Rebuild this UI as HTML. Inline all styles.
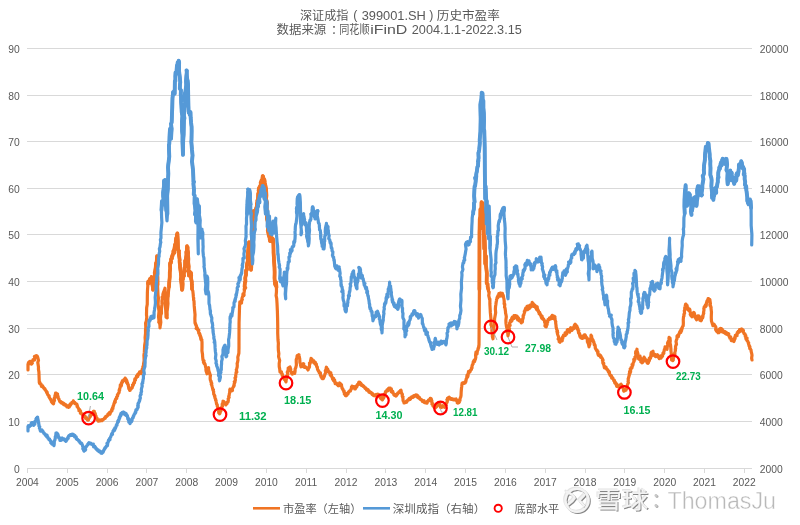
<!DOCTYPE html><html><head><meta charset="utf-8"><title>深证成指历史市盈率</title><style>
html,body{margin:0;padding:0;background:#fff;width:800px;height:525px;overflow:hidden}
svg{display:block}
.ax{font-family:"Liberation Sans", "Noto Sans CJK SC", sans-serif;font-size:10.3px;fill:#595959}
.cj{font-family:"Liberation Sans","Noto Sans CJK SC",sans-serif;fill:#595959}
.lb{font-family:"Liberation Sans",sans-serif;font-weight:bold;font-size:10.5px;fill:#00B050}
</style></head><body>
<svg width="800" height="525" viewBox="0 0 800 525">
<g stroke="#d9d9d9" stroke-width="1" shape-rendering="crispEdges"><line x1="27" y1="48.5" x2="752" y2="48.5"/><line x1="27" y1="95.5" x2="752" y2="95.5"/><line x1="27" y1="141.5" x2="752" y2="141.5"/><line x1="27" y1="188.5" x2="752" y2="188.5"/><line x1="27" y1="234.5" x2="752" y2="234.5"/><line x1="27" y1="281.5" x2="752" y2="281.5"/><line x1="27" y1="328.5" x2="752" y2="328.5"/><line x1="27" y1="374.5" x2="752" y2="374.5"/><line x1="27" y1="421.5" x2="752" y2="421.5"/></g>
<g stroke="#d9d9d9" stroke-width="1" shape-rendering="crispEdges"><line x1="27" y1="468.5" x2="752" y2="468.5"/><line x1="27.5" y1="468" x2="27.5" y2="473"/><line x1="67.5" y1="468" x2="67.5" y2="473"/><line x1="107.5" y1="468" x2="107.5" y2="473"/><line x1="146.5" y1="468" x2="146.5" y2="473"/><line x1="186.5" y1="468" x2="186.5" y2="473"/><line x1="226.5" y1="468" x2="226.5" y2="473"/><line x1="266.5" y1="468" x2="266.5" y2="473"/><line x1="306.5" y1="468" x2="306.5" y2="473"/><line x1="346.5" y1="468" x2="346.5" y2="473"/><line x1="385.5" y1="468" x2="385.5" y2="473"/><line x1="425.5" y1="468" x2="425.5" y2="473"/><line x1="465.5" y1="468" x2="465.5" y2="473"/><line x1="505.5" y1="468" x2="505.5" y2="473"/><line x1="545.5" y1="468" x2="545.5" y2="473"/><line x1="585.5" y1="468" x2="585.5" y2="473"/><line x1="624.5" y1="468" x2="624.5" y2="473"/><line x1="664.5" y1="468" x2="664.5" y2="473"/><line x1="704.5" y1="468" x2="704.5" y2="473"/><line x1="744.5" y1="468" x2="744.5" y2="473"/></g>
<g class="ax"><text x="19.8" y="53" text-anchor="end">90</text><text x="19.8" y="100" text-anchor="end">80</text><text x="19.8" y="146" text-anchor="end">70</text><text x="19.8" y="193" text-anchor="end">60</text><text x="19.8" y="239" text-anchor="end">50</text><text x="19.8" y="286" text-anchor="end">40</text><text x="19.8" y="333" text-anchor="end">30</text><text x="19.8" y="379" text-anchor="end">20</text><text x="19.8" y="426" text-anchor="end">10</text><text x="19.8" y="473" text-anchor="end">0</text><text x="759.8" y="53">20000</text><text x="759.8" y="100">18000</text><text x="759.8" y="146">16000</text><text x="759.8" y="193">14000</text><text x="759.8" y="239">12000</text><text x="759.8" y="286">10000</text><text x="759.8" y="333">8000</text><text x="759.8" y="379">6000</text><text x="759.8" y="426">4000</text><text x="759.8" y="473">2000</text><text x="27.4" y="486.3" text-anchor="middle">2004</text><text x="67.2" y="486.3" text-anchor="middle">2005</text><text x="107.1" y="486.3" text-anchor="middle">2006</text><text x="146.9" y="486.3" text-anchor="middle">2007</text><text x="186.7" y="486.3" text-anchor="middle">2008</text><text x="226.5" y="486.3" text-anchor="middle">2009</text><text x="266.4" y="486.3" text-anchor="middle">2010</text><text x="306.2" y="486.3" text-anchor="middle">2011</text><text x="346.0" y="486.3" text-anchor="middle">2012</text><text x="385.9" y="486.3" text-anchor="middle">2013</text><text x="425.7" y="486.3" text-anchor="middle">2014</text><text x="465.5" y="486.3" text-anchor="middle">2015</text><text x="505.4" y="486.3" text-anchor="middle">2016</text><text x="545.2" y="486.3" text-anchor="middle">2017</text><text x="585.0" y="486.3" text-anchor="middle">2018</text><text x="624.8" y="486.3" text-anchor="middle">2019</text><text x="664.7" y="486.3" text-anchor="middle">2020</text><text x="704.5" y="486.3" text-anchor="middle">2021</text><text x="744.3" y="486.3" text-anchor="middle">2022</text></g>
<g fill="#595959" font-size="12" style="font-family:'Liberation Sans','Noto Sans CJK SC',sans-serif"><text x="299.9" y="19.5" textLength="48.6" lengthAdjust="spacingAndGlyphs">深证成指</text><text x="353.2" y="19.4" font-size="12.3" style="font-family:'Liberation Sans',sans-serif">(</text><text x="361.7" y="19.6" style="font-family:'Liberation Sans',sans-serif" font-size="12" textLength="64.2" lengthAdjust="spacingAndGlyphs">399001.SH</text><text x="429.3" y="19.4" font-size="12.3" style="font-family:'Liberation Sans',sans-serif">)</text><text x="436.8" y="19.5" textLength="63" lengthAdjust="spacingAndGlyphs">历史市盈率</text><text x="276.6" y="33.8" textLength="49.7" lengthAdjust="spacingAndGlyphs">数据来源</text><text x="331" y="33.8" font-size="12">：</text><text x="339.2" y="33.8" textLength="30.3" lengthAdjust="spacingAndGlyphs">同花顺</text><text x="370.2" y="33.6" style="font-family:'Liberation Sans',sans-serif" font-size="12" textLength="37.2" lengthAdjust="spacingAndGlyphs">iFinD</text><text x="411.8" y="33.6" style="font-family:'Liberation Sans',sans-serif" font-size="12" textLength="110" lengthAdjust="spacingAndGlyphs">2004.1.1-2022.3.15</text></g>
<g fill="none" stroke="#F07424" stroke-linejoin="round" stroke-linecap="round"><polyline stroke-width="3.2" points="28,370 28,364 28.59,364.4 28.43,362.7 28.85,363.6 28.55,363.8 28.96,362.6 29.4,361.8 29.46,361.5 30.22,361.3 29.69,362.6 29.88,363.4 30.08,363.5 31.03,362.3 30.59,362.2 31.44,364 31.54,363.6 31.5,363.9 31.95,363.1 32.37,363.1 31.93,363.5 32.01,362.4 32.12,361.1 32.86,360.6 33.15,359.5 33,359.5 33.38,360.2 33.6,359.7 33.57,359.5 33.56,360.2 34.57,359.9 34.73,357.9 34.73,357.5 34.41,356.4 35.53,356 35.53,355.8 35.73,357 35.7,356.5 36.06,356.6 36.36,355.8 36.69,357.1 36.99,356 36.59,355.6 37.38,356.7 37.59,356.7 37.2,357.2 37.42,357.2 37.8,357.6 38.5,360.3 37.79,362.5 38.49,366.9 38.43,369.2 38.9,372 39.3,382.7 39.79,382.5 39.72,382 39.57,383.5 40.6,384.2 40.65,384.4 40.51,383.8 41.01,384 41,384.8 41.39,385.3 41.36,386.3 41.83,386 41.59,385.9 41.65,385.8 42.69,385.9 42.53,387 42.44,386.9 42.68,386.5 43,387 43.34,387.2 43.57,387.9 43.86,388.3 44,388.1 43.99,388 44.39,388.9 44.85,388.7 44.68,389.3 44.84,388.8 45.09,389.3 45.2,390 45.57,390.3 45.76,390.4 46.16,391.2 46.38,391.1 46.44,392 46.92,392.8 46.7,392.6 47.2,392.2 47.08,393 47.3,393 47.33,393.8 47.8,394.6 47.85,394.9 48.41,395.3 48.57,395.7 48.22,395.2 48.92,395.8 49.16,396 48.94,396.9 49.4,397.4 49.4,397.4 49.49,397.7 49.54,397.9 50.08,398.7 50.49,399.5 51,399.5 50.71,399.4 50.91,400 51.38,400.7 51.4,401.6 51.39,401.7 51.67,402 52.49,402.3 52.16,402.8 52.59,403.2 52.3,402.9 52.93,403.1 53.53,403.8 53.21,403.6 53.5,403.5 53.75,402.4 53.58,401.5 54.52,400.6 54.27,399.2 54.34,397.8 54.64,397.7 55.38,397.1 54.95,395.7 55.39,394.6 55.6,393 55.81,393.7 56,393.6 56.35,393.2 56.23,393.6 56.98,394.4 56.89,393.8 57.51,394 57.04,394.9 57.3,394.9 57.7,395.3 57.9,396.2 58.22,397 57.95,397.8 58.34,398.5 58.59,398.8 58.99,399 59.03,399.6 59.47,400.6 59.46,400.7 59.8,401.6 60.03,401.9 60.49,401.4 60.51,401.6 60.77,402.2 61.26,402.2 60.95,402.1 60.97,402.8 61.8,402.4 61.87,402.3 61.9,402.7 62.21,402.7 62.07,403.2 62.57,403.3 62.56,403.3 63.02,402.9 62.71,403.7 63.67,403.4 63.72,404 63.98,403.4 64.47,404.4 63.72,404.6 64.11,405 64.9,404.8 64.66,404.8 65,404.7 65.25,404.7 65.21,404.8 65.24,405.2 65.73,404.8 65.62,404.7 66.51,405.3 66.12,406.1 66.51,406.1 66.9,406.3 66.99,406.9 67.53,406.2 67.67,406 68.16,406.5 68.07,406.9 68.21,406.9 68.47,407.1 68.6,407.4 68.74,406.9 68.73,406.9 69.36,406.9 69.57,405.9 69.22,405.3 69.54,405.5 69.98,405.8 70.5,405.1 70.63,404.2 70.31,403.8 70.88,404.3 71,404 71.29,404 71.1,404.1 71.48,403.7 71.67,402.8 71.89,402.7 71.89,402.3 72.61,402.5 72.61,402.4 72.9,402.3 73.13,401.5 73.3,401 73.31,401.1 73.36,401 73.9,402 73.63,402.4 74.73,402.4 74.47,402.6 74.35,402.7 74.62,402.4 75.05,402.7 75.03,403.6 75.41,403.4 75.7,403.5 76,404 76.43,403.9 76.82,404.1 76.77,405 77.25,405.4 77.17,405.3 77.37,405.6 77.06,406.5 77.14,406.5 77.57,406.9 78,407.6 78.15,407.8 78.29,408.2 78.79,408.8 78.56,408.7 79.47,409.4 79.16,409.9 78.94,410.8 79.92,410.2 79.39,410.6 80.54,411.1 80.11,411.5 80.03,411.3 80.66,412.4 80.43,413.2 80.63,412.9 80.93,413.1 81.44,413.4 81.56,413.8 81.9,414.3 82.11,414 82.35,414.1 82.34,414 82.78,414.1 83.05,415.2 82.87,415.8 83.41,415.1 83.65,415.5 83.86,415.7 84,416 84.19,416.2 84.2,416.7 84.43,416.4 85.1,416.2 84.85,417.2 84.83,416.9 85.04,417.1 85.74,417.5 85.43,417.6 85.62,418.3 86.12,418.2 86.32,418.6 86.7,419 86.96,419.2 87.3,419.9 87.45,420 87.92,419.7 88.28,419.9 88.25,420.2 88.48,419.8 88.5,420 88.52,419.1 89.07,418.4 88.66,417.9 89.36,418 89.05,416.9 89.56,416.2 90.35,416.6 89.84,416.2 90.23,415.5 90.5,415 90.88,414.8 90.51,414.9 90.77,414.6 91.25,414.6 91.79,414.8 91.52,413.7 91.86,414.1 92.04,413.5 92.54,413.4 92.5,413 92.46,413 92.87,413.1 93.65,412.1 93.48,411.4 94.01,411.6 93.57,411.5 93.88,411.3 94.3,411.4 94.34,412.1 94.47,412.5 95.28,413.7 95.27,414.5 95.01,414.5 95.57,415.4 95.57,415.2 96,416 96.04,416.6 96.23,417.5 96.96,418 97.1,418.4 96.51,418.5 97.29,419 97.29,419.1 97.15,419.6 97.74,420.3 98,421 98.38,420.8 98.69,421.1 98.76,421.2 99.1,421 99.09,420.6 99.22,420.8 98.98,420.4 99.46,419.8 100.06,420.2 99.81,420.5 99.97,420.9 99.99,420.8 100.72,420.6 100.95,420.4 101,420 101.26,420.2 101.44,419.8 101.39,420.3 101.91,420.6 101.58,419.9 101.97,419.5 102.91,419.7 102.84,420 102.55,419.5 103.21,419.6 103.27,419.5 103.46,419.4 103.8,419 104.14,418.9 104.29,418.4 104.15,418.6 104.67,417.8 105.18,418.3 104.92,418.3 105.23,417.8 105.2,418.1 105.71,417.3 105.49,417.7 105.62,416.6 106.3,416.7 106.12,416.2 106.7,416.3 106.88,416.3 107,416 107.32,415.8 107.57,415.5 107.9,415.5 107.98,414.9 107.98,415.3 107.89,414.4 107.99,413.9 108.72,413.6 109.06,413.2 109.32,413.8 109.41,414 109.86,414.2 110.07,413.8 109.4,412.8 109.71,412.2 110.16,412.1 110.64,412.4 110.51,411.7 110.71,411.9 111.05,411.5 111.25,411.5 111.4,411.4 111.42,411 112.02,410.6 111.67,409.6 112.12,408.9 112.9,408.6 112.49,407.7 113.11,407.1 113.21,406.8 113.19,405.8 113.58,405.6 113.75,404.4 114,404 114.11,403.2 114.38,402.4 114.64,402.8 115.23,402.1 114.86,401.1 114.71,401.3 115.26,401.2 115.35,399.8 115.68,399.5 115.55,399.2 116.67,398.4 116.37,398.1 116.45,397.4 116.87,397.6 117,397 117.3,396.4 117.46,395.7 117.74,395.7 117.34,395.1 118.27,393.5 118.57,393 118.82,393.1 119.1,392.2 119.19,392 119.28,390.6 119.67,390.1 119.13,390.4 119.44,389.3 119.72,388.6 120,388 120.18,387.2 120.29,385.9 120.99,386.4 120.32,385.2 121.46,385.4 120.84,384.8 121.82,383.5 121.15,383.8 121.76,382.5 122,382 122.35,381.5 122.42,380.8 122.8,381.8 122.41,380.7 122.87,381 123.18,380.6 123.87,380.6 123.67,380 123.82,379.8 124,380 124.35,379.9 124.7,378.9 124.64,379 125.14,379.4 125.06,378.5 125.16,378 125.17,378.5 125.7,379 126.12,379.4 126.15,379.6 126.76,380.6 127.02,381.8 126.41,381.4 126.53,382.6 127.4,382.5 127.26,382.8 127.4,383.9 127.95,383.8 128,384 128.26,384.7 128.38,385.1 128.23,385.5 128.5,386.6 128.83,388.7 129.49,389 129.5,390 129.81,390.4 130.06,389.9 129.91,389.2 130.3,389.9 130.25,390.2 130.46,389 131,389 130.98,388.3 131.41,388.5 131.17,388.6 131.45,388.1 132.16,387.8 131.98,387.3 132.07,387.5 132.86,385.9 132.5,385 133.16,385.1 133.3,385 133.57,384.2 133.42,384.2 133.68,384 133.63,382.8 134.35,382.7 134.51,382.7 134.47,381.1 135.41,380.2 134.76,379.4 134.96,378.9 135.68,378.7 135.65,378.6 136,378 136.18,377.7 136.69,377.4 136.38,376.4 136.84,376.4 137.06,376.9 137.12,376.6 137.74,376.5 137.21,375.4 137.66,374.5 137.76,375.2 138.34,374.9 138.03,375.1 138.49,374.4 138.85,373.2 139,373 139.38,372.7 139.49,372.5 139.37,373 139.63,372.6 139.56,371.8 140.11,372.6 139.96,373.3 140.28,372.4 141.09,373.3 141.01,373.6 141.12,372.1 140.95,371.6 141.45,372 141.8,371.7 142,372 141.92,371 142.04,370.3 142.23,369 142.9,368.6 142.84,366.8 143.63,365.4 143.5,364 144.1,360.8 144.03,357.4 143.93,355.3 144.33,352.4 144.5,348 144.67,345.3 145.32,341.2 145.1,337.6 145.53,333.2 145.5,330 145.8,327.3 145.6,323.1 146.33,321.1 146.78,316.9 146.5,315 146.65,307.8 147.26,304.2 147.3,298.4 147.38,292.9 147.5,290 147.97,283.8 148,283 148.25,281.5 148.39,281.7 149.02,283 148.63,281.2 148.63,282.3 149.11,281 149.03,282.2 149.85,281.4 149.53,280.3 150,279 150.35,280.7 150.79,279.5 150.53,279.4 150.92,279.4 151.26,279.2 151.12,278.7 151.6,277 152,280 151.54,282.8 152.18,283.7 152.1,283.4 152.95,287.5 153.04,287.7 153,289.8 152.94,289.2 152.91,286.6 153.68,286.1 153.8,285.4 154,283 154.08,282.8 154.66,281.5 154.79,279.6 154.57,276.7 155,277 154.73,272.7 155.01,271.7 155.54,268.6 155.78,267 156,263 156.46,263.2 156.73,261.6 156.82,260.1 156.91,259.6 157,256.2 156.91,265.5 157.24,270.7 157.47,277.4 157.53,284.8 158,295 158.42,298.1 158.07,304 158.99,311.4 158.53,316.7 159,321 158.75,322.2 159.67,323.5 159.96,325.5 160.05,327.2 160,327.8 160.15,326.2 160.55,324.1 160.81,322.2 160.49,318.6 160.75,315.2 161.47,313.4 161.43,309.7 161.47,308.7 161.86,304.9 162,303 161.93,301.1 162.33,298.8 162.11,297.1 163.26,297.2 162.83,297.7 162.78,297.7 162.91,294.3 163.7,291.7 163.79,292.2 164,291 164.3,292.5 164.07,291.1 164.54,289.6 164.54,290.1 165,288.2 165.24,292 165.57,297.2 165.19,303.7 165.71,310.1 166,315 166.02,316.3 166.02,317 166.18,317.2 167.2,317.9 167,317.8 167.18,315 167.07,311.7 167.55,307.8 167.97,303.7 167.79,300.6 168,297 168.19,296.6 168.45,291.9 168.58,290.6 169,287 169.16,283.2 169.76,276.9 169.79,272.5 170.16,268.6 170,265 170.07,263.1 170.4,263.7 170.61,262.1 170.87,263 171.16,261.4 171.11,260.9 171.03,259.4 171.96,258.4 171.73,257.3 172,257 172.17,255.8 171.96,256.5 172.86,254.2 172.37,256.4 173.13,253.6 173.36,253 173.36,251.3 173.44,251 173.81,253.1 174,253 174.53,252.5 174.37,248.9 174.72,246.9 175.17,244.3 175,245 175.4,244.6 175.7,243.2 175.23,244.5 176.03,243.6 175.78,241.2 176.11,238.2 176.3,239.9 176.72,237 176.91,235.9 176.82,235.1 177.35,233.4 177.4,233.6 177.78,240.1 178,247 178.1,249.5 178.51,250.5 179.03,250.8 178.8,251.4 179.03,253.6 178.92,254.6 179.69,260.1 179.56,260.5 179.6,261.9 180,265 180.06,266.4 180.03,267.3 180.84,273.1 181.14,276.9 180.76,279.5 180.97,279.6 181.08,280.6 181.59,284.8 181.69,286.3 182,289.8 182.42,288.6 182.46,287.6 182.67,283.9 182.36,280.6 183,279 182.97,276.7 183.27,274.6 183.59,276.2 184.04,276 183.82,274.3 184.02,272 184.76,271.2 184.4,270.9 184.53,267.8 185,267 185.09,263.8 185.12,260.7 185.68,260.4 186.03,257.5 186.42,254.7 186.29,251.9 186.63,252 186.96,250.1 186.9,248.5 187,246.2 187.24,247 187.64,247.4 187.58,249.6 188.13,252.5 188,255 188.35,258.8 188.18,262.1 188.7,266.4 188.45,271.3 189,275 188.99,274.1 188.94,275.7 189.39,274.9 189.57,272.6 189.9,271.8 189.78,274.4 190.59,273.3 190.14,273.7 190.68,272.7 191,273 191.18,275.4 191.05,278.3 191.82,281.9 191.84,284.4 192,287 191.95,288.9 192.56,290.3 192.78,290.8 192.92,291.9 193.17,294.1 193.41,297 193.6,298.3 193.71,298 193.56,299.8 194,301 194.22,305.9 194.67,310.8 195.04,314.6 194.86,318.6 195,323 195.37,324 195.59,323.5 195.64,324.6 196.16,325.8 195.99,324.8 196.4,325.9 196.7,327.6 196.16,328.4 197.21,327.8 197.26,329.3 197.47,328.4 197.56,328.8 197.85,329.4 197.98,329.9 198,330 198.23,331 198.84,330.3 198.6,330.8 198.49,330.6 198.78,333.3 199.51,333.2 199.57,333.3 199.98,334.5 199.71,335.3 200,336 199.99,335.7 200.22,335.4 201.04,337.6 200.55,337.9 201.13,338.2 200.82,339.1 201.17,340 201.87,339.8 201.77,340.6 202,342 202.02,346.5 201.94,350.7 202.52,354.5 202.57,356.1 203,360 203.37,360.9 203.21,360.2 204.01,360.8 203.45,362.3 204.05,363.4 203.78,362.7 204.42,362.8 204.42,363.1 204.79,364.1 205,364 205.16,364.7 205.15,364.9 205.72,367.4 205.97,368.2 206.02,369.4 205.85,369.9 206.02,369.9 206.13,371.2 206.71,372.8 207,373.8 206.92,372.4 207.38,372 207.19,369.7 207.88,369.6 208,368 208.57,367.6 208.56,369.6 208.53,369.1 208.89,370.7 209,371 209.21,371.6 209.36,372.2 209.98,374.2 210.08,375.1 210.45,375.3 210.18,377.4 210.2,378.9 210.42,380.3 211.14,381.4 211.23,382.5 210.98,382 211.79,383.3 211.28,384.3 211.74,385 212,386 212.15,386.7 212.34,387.2 212.69,388.9 213.23,389.9 213.38,389.6 212.9,389.9 213.65,391.6 213.58,392.6 213.73,393.6 213.72,393.7 213.74,394.1 214.83,395.9 214.54,396.4 214.91,397.1 215,398 215.36,398.8 215.37,399 215.73,399.4 215.6,400.2 216.11,400.8 216.19,401.7 216.37,402.8 216.54,404 217.23,404.7 217.09,405.2 217.41,406 217.32,405.9 217.27,406.3 217.74,407.3 218,408 218.35,408.3 218.39,409.1 219.09,410.4 218.63,411.5 218.83,412.9 219.48,413.3 219.6,413.8 219.95,413.3 220.33,412.3 220.32,411.7 220.22,411.7 220.43,410.8 220.92,410.9 221,410 221.07,409.3 221.02,407.9 221.7,407.3 221.92,407.1 222.49,406.3 222.12,405.1 222.27,404 222.67,403.4 223.05,401.9 223,401.2 223.26,401.5 223.11,401.9 223.88,401.6 223.5,402 224.33,402.9 224.19,403.5 224.78,403 224.9,403.1 224.72,403.9 225.24,403.7 225.42,404.5 225.6,404.8 225.77,404.9 225.84,404.7 226.25,404 226.81,403.9 226.6,403.8 226.93,403.7 226.77,403.2 227.09,403.2 227.07,402.2 227.76,402.1 227.8,402.2 228,402 228.34,400.7 228.33,399.7 228.13,398.9 229.16,397.3 228.69,396.4 229.23,395.2 229.23,394.2 229.74,392.6 229.71,391.1 230,389.2 229.97,389.6 230.06,390.3 231.05,389.6 231.05,389.8 230.74,389.7 231.68,389.8 231.8,389.6 231.77,390.8 231.92,390.5 232,390.8 232.26,390.2 232.49,390.5 232.3,389.1 232.35,389 232.87,387.6 233.19,387.1 233.46,386.3 233.42,386.7 233.81,386.5 234,386 234.23,385.1 234.01,384.4 234.97,382.1 234.31,381.7 235.11,381 235.4,379.9 235.01,377.9 235.8,377.1 235.68,375.4 236,374 236.04,372.5 236.86,372.1 236.3,369.6 236.69,368.8 237.18,367.1 237.29,365.2 237.12,363.4 237.53,362.5 237.61,361.8 238,360 237.82,357.1 238.88,353.3 238.94,349.9 238.99,348.1 239,344 239.05,323.3 239.6,305 239.81,304.5 239.8,303.4 239.81,301.9 239.97,302 240.36,302.1 240.57,302.7 241.45,303.1 240.93,303.3 241.37,303.1 241.57,302.2 241.69,300.2 242,299 242.31,299.6 241.95,298.6 242.52,296.8 242.88,295.9 242.97,293.9 243.65,295.8 243.59,295.7 244.08,295 243.78,294.4 244,293 244.25,291.5 244.56,289 245.04,287.3 245.3,287.6 244.54,286.6 245.04,281.9 245.46,281.5 245.22,278.2 245.6,276.2 246,275 246.02,271.8 246.05,270.4 246.75,270 247.03,269.1 246.77,267 247.08,263.7 247.81,260.9 247.89,258.7 247.57,257.2 248,255 247.94,253.2 248.28,249.1 248.52,246.7 248.9,246.4 249,242.2 248.87,244.7 248.96,246.8 249.97,250.3 249.89,254.4 250,255 249.89,258.4 250.4,261.3 250.54,262.8 250.94,267.7 251,269.8 251.25,267.2 251.37,263.2 251.73,260.2 251.68,259.2 252,255 251.99,240.7 252.5,224 252.85,220.6 252.92,218 252.88,217.1 253.81,214.3 253.21,211.2 253.69,212.6 254,211.2 253.92,213.1 254.3,213.7 254.7,215.8 254.96,216.2 255,212.8 255.01,212.7 255.87,209.9 255.75,212.2 256,208.5 256.28,211.2 256.14,210.8 256.83,209.8 256.19,208.2 257.04,205.9 257,206 256.99,203.3 257.33,202.5 257.33,200.5 258.08,200.2 257.93,199 258.1,196.1 258.23,193.7 259.04,191.6 258.6,190.7 259,188 259.41,187.4 258.99,189.3 259.48,188.2 259.85,186.4 260.13,187.5 259.95,188 260.29,187.3 260.89,183.1 260.65,182.8 261,182 261.52,182.9 261.44,180.9 261.39,180.5 262.27,179.9 261.77,180.2 262.32,180 262.51,177.7 262.6,177 263.1,176.6 262.74,176.1 262.93,176.4 264.03,180 263.55,179.2 264,179.5 264.09,180.2 264.05,181 264.5,180.2 264.44,179.7 264.8,182.8 265.66,186.6 265.17,187.4 265.45,188.7 265.76,189 266,188 266.44,195.6 266.05,198.8 267.06,203.1 266.59,206.1 267,214 266.89,217.9 266.92,218.7 267.83,222 267.94,225.8 268,230 267.76,230.5 268.63,234.3 268.3,232.6 268.81,235.6 269,236 269.51,236.1 269.04,236.1 269.92,239.2 269.69,239.2 270,241 270.47,240.7 270.83,238.8 271.1,241.1 270.5,239.1 270.67,238.8 271.27,240.9 271.39,241.4 272.04,239.8 271.65,237.7 272,238 272.68,240 272.51,240.7 272.63,240.9 272.63,238.6 273,239 273.34,242.2 273.53,249.5 273.56,253 273.91,257.5 274,261 274.47,267.3 274.62,271.9 274.59,274.4 274.52,278.2 275,283.8 275.52,285.2 274.92,283.7 275.75,281.9 275.66,282.8 276,282.2 276.47,287.2 276.46,292 276.1,295.7 276.71,298.5 277,303 277.38,311.1 277.59,318.3 277.73,326.6 277.7,333 278,340 278.37,343.1 278.25,346.7 278.37,350.2 278.86,353.7 278.56,356.6 279.66,360.4 279.19,363.6 279.23,366.6 279.72,369.1 280,372 280.18,372 280.17,371.9 280.24,372.1 281.27,371.7 281.39,371.8 280.82,372.7 281.41,373.3 281.64,373 281.6,372.9 282.34,374.3 282.11,374.1 282.22,375.6 282.42,375.1 282.74,375.9 283,376 283.09,376.6 283.28,376.9 283.71,377.2 283.99,378.5 284.31,378.4 283.89,378.6 284.17,379.1 284.49,378.8 284.33,379.3 285.46,379.5 285.07,380.1 285.59,380.5 285.53,381 285.72,381.5 286,381.8 286.12,380.9 286.11,380 286.59,378.5 286.43,376.3 287.27,375.4 287.54,375.1 287.87,374.3 287.26,372.2 287.96,370.7 288,370 288.42,369 288.15,368.2 288.8,368.7 288.88,367.6 289.05,368 289.5,368 289.76,368.5 289.16,367.5 289.54,367.2 290,367 290.38,368 290.59,369.2 290.83,369.2 290.52,370.1 290.97,371.4 290.9,371.7 291.37,372.8 291.93,373.5 291.85,373.6 292,374 292.36,374.1 292.08,373.3 292.2,373.3 292.64,373.2 293.28,372.7 293.62,373 293.28,372.4 293.87,372.8 293.49,372.6 294.07,372.3 294.35,373.3 294.72,373.4 294.6,372.5 294.88,372.5 295,372 295.09,370.8 295.16,368.8 295.75,367.8 295.89,367.1 296.38,365 296.29,362.5 296.23,362.3 296.23,359.6 296.93,357.8 297,357 296.94,357 297.17,356.3 297.13,355.7 297.64,355.3 298.03,355.4 297.81,356.6 298.8,355.2 298.64,354.7 299.01,354.8 299,355 299.13,355.8 299.46,357.5 299.5,358.1 299.7,358.5 299.89,361 299.87,362.1 300.32,363.7 300.86,364.4 300.57,365.4 301,366.8 301.12,366.1 301.41,366.6 301.23,366 301.89,365.3 302.16,366.2 302.11,366.6 302.24,364.7 302.17,364.3 303.02,363.9 303,364.2 303.46,364.1 303.21,363.7 303.31,363.9 303.76,363.8 303.57,365.4 303.83,365.8 304.8,366.7 304.63,367.5 304.92,366.6 305,367 305.35,366.9 305.57,366.8 305.35,367.2 305.73,367.5 306.05,367.2 306.4,367.8 306.51,367.9 306.62,367.7 307.09,367.8 306.79,367.9 307,367.8 307.14,368.8 307.87,368.8 307.69,369.5 308,370 308.35,369.3 308.29,368.7 308.18,367.9 309.14,367.5 309.33,367.4 309.5,366.5 309.46,364.9 310.04,363.4 309.48,363.1 310.12,363.6 310.55,361.7 310.52,361.4 310.47,361.1 310.83,359.7 311,359 311.04,359 311.08,358.4 312.01,359.2 312.15,360.3 312.3,360.4 312.07,360 312.16,361.2 312.66,361.3 312.84,360.4 313,361 313.35,361.2 313.68,360.7 313.9,361.5 313.89,361.6 313.72,362.6 314.45,361.8 314.13,363 314.61,363 315.14,362.6 315.28,362.4 314.85,362.7 315.06,364.1 315.27,363.3 315.62,363.6 316,364 316.28,364.1 316.06,364.3 316.24,364.1 316.76,366.3 316.55,366.2 317.02,367.3 317.34,367.1 317.44,368.4 317.49,369 317.54,369.5 318.63,370.8 318.37,371 318.77,371 318.88,371.5 319,372 319.08,372.6 319.22,372.7 319.95,372.6 320.04,372.9 320.42,372.8 320.44,373.7 320.5,373.7 320.39,375.3 320.68,374.8 321.26,376.1 321.02,375.6 321.2,377.2 321.86,376.8 321.78,377.7 322,378 322.03,378.4 322.81,378.6 322.62,378.7 323.28,377.9 323.3,378.6 323.59,378 323.4,378.3 323.71,377 323.71,376.7 324,377 324.38,376.2 324.27,376.1 324.48,375.7 325.13,373.8 325.1,373.7 325.64,372.8 325.64,371 325.27,370.9 326.3,368.7 326.14,368.1 326.4,367.2 326.54,367.4 326.91,368.2 326.51,368.5 326.78,369.8 327.69,369.1 327.79,370.4 328.05,370 328.08,370.6 328.25,371.3 328.16,371.4 328.29,371.9 328.86,371.5 329,372 329.19,371.9 329.39,371.9 329.31,372.7 330.27,373.3 329.72,372.9 329.81,373 330.86,372.9 330.14,374.9 330.88,375.7 331.38,375.1 331.34,374.8 331.59,375.9 331.36,376 331.72,376.7 332,377 332.28,377 332.33,378 332.44,378.4 332.52,379.2 333,378.4 333.27,378.8 333.83,378.7 333.49,379.4 333.34,380.3 334.33,381.3 334.15,380.7 334.68,380.2 334.67,381.6 334.79,382.1 335,382 335.18,382.7 335.08,382.9 335.2,383.7 335.9,383.5 335.85,382.7 335.71,382.7 336.28,382.9 336.8,383.7 337.17,384.6 337.11,383.9 337.49,384.4 337.24,383.8 337.47,384.4 337.77,384.9 338,384.8 338.46,385.2 338.25,385.8 339.08,385.6 338.37,384.1 339.49,384.3 339.54,383.1 339.38,383.6 339.61,382.9 339.64,383.2 340,383.2 340.25,383.5 340.7,384.1 340.97,385.4 340.72,384.7 341.25,384.7 341.53,384.8 341.54,386 341.97,387.4 341.93,388 342.02,388.1 341.9,387.6 342.32,388.7 342.84,389 342.89,389.5 343,390 343.24,390.3 343.46,390.7 343.3,390.4 344.08,390.8 343.88,392 344.14,392.5 344.17,392.9 345.06,392.9 344.42,394 345.36,393.5 345.34,394 345.5,394.7 345.36,395.5 345.71,395.7 346,395.8 346.31,395.5 346.73,395.3 346.48,394.6 346.89,394.7 347.01,394.8 347.48,393.8 346.97,394.2 347.11,394.4 347.92,394.1 347.59,393.2 348.33,392.6 348.7,392.6 348.68,392.1 348.63,392 349,392 349.03,391.3 349.3,391.4 349.53,391.4 349.55,390.8 349.71,390.9 350.48,390.9 350,390.5 350.75,390.3 350.87,389.4 351.45,388.5 351.65,388.7 351.43,387.2 351.38,387.2 351.89,386.9 352,386.2 352.34,386.4 352.24,387.2 352.68,387.7 352.54,387.2 352.53,386.5 352.82,386.9 353.22,386.7 353.3,386.6 354.28,386.9 354.12,387.4 354.66,387.9 354.81,388.7 354.77,389 354.74,389 355,388.8 355.13,388.8 355.26,388.9 355.79,388.1 355.53,387.8 356.38,386.7 356.21,386.1 356.39,386.7 356.26,386.2 356.9,386.6 356.89,386.2 357.08,385.9 357.26,384.6 357.96,384.9 357.96,384.4 358.15,384.7 357.96,384.7 358.59,384.2 358.65,383.3 358.66,382.5 359,382.2 359.24,382.1 359.66,382.3 359.48,383 359.51,383.3 359.66,384.1 360.24,384.5 360.88,383.5 360.78,383.2 360.43,383.2 361.39,384.2 361.37,385 361.07,385 361.48,385.4 361.62,385.1 362,385 362.18,385.2 362.14,385.3 362.49,385.7 362.67,385.2 363.24,386 362.82,386.1 363.5,386.5 364.07,386.6 363.82,386.6 363.63,386.1 363.89,386.2 364.01,386.4 364.69,387.8 364.86,387.9 365.37,387.7 365.13,388.4 365.02,387.9 365.72,388 365.79,388.4 366,389 366.33,389 366.54,389.5 366.95,389.7 366.54,390 366.65,389.4 367.09,389.1 367.11,389.8 367.44,389.4 368.18,389.9 368.32,390.9 368.52,390.5 368.49,390.4 368.33,390.8 368.56,391.1 368.74,391.7 368.9,392.1 369.35,391.2 369.67,391.9 369.8,391.8 370,392 370.11,392 370.15,392.7 370.46,392.3 370.85,392.4 370.66,392.7 371.41,393.5 371.07,393 371.61,392.8 372.02,393.5 372.37,393.4 372.17,394.5 372.07,393.9 372.17,394.6 373.02,394.9 372.65,394.2 373.14,394.4 373.63,395.4 373.34,395.4 373.71,395.6 374,395.8 374.17,395.6 374.63,395.7 374.67,395.1 374.44,395.4 374.83,394.8 375.4,394.8 375.56,395.7 376.1,395.3 375.74,395.8 376.02,395.3 376.34,394.5 376.38,394.9 377.01,394.9 376.99,395 377.23,395.3 377.64,394.8 377.08,395.1 377.42,395 377.84,394.6 378,394.2 378.12,394.5 378.22,394.5 378.86,394.5 379.17,395 378.99,396.1 379.65,395.6 379.48,395.4 379.3,396.5 380.04,396.3 380.46,396.1 380.36,397.1 380.15,397.8 380.76,398.4 381.25,398.1 380.69,398.2 380.89,398.8 381.3,399 381.71,399 382.05,399.4 382.12,399.5 382.4,399.8 382.67,399.4 382.52,399 383.12,398 383.33,398 383.6,398.2 384.06,397.2 383.41,396.1 383.53,395.6 384.23,395.4 384.51,394.4 384.8,394.1 385.1,394.2 384.6,393.9 385.37,393.3 385.29,392.2 385.46,391.9 385.73,391.3 386,391 386.3,391 386.66,391.2 386.69,390.9 387.01,389.9 386.85,390.6 386.8,390.5 387.33,390.9 387.32,390.2 388.25,390.5 388.02,389.9 388.4,389.2 388.75,389.4 388.6,388.4 388.32,389.4 388.88,389.3 389.01,388.3 389.18,389 389.8,388.6 389.66,388.2 390,388.2 390.33,388.2 390.47,388.9 391.01,388.8 391.3,388.8 391.41,389.6 391.31,390.1 391.34,391.1 392.07,390.8 391.43,391.9 392.26,392.4 391.93,391.7 392.72,391.4 392.83,391.7 392.98,392.7 393,393 393.05,392.8 393.15,393.4 394.07,394 393.72,394 394.14,394.7 394.39,395.3 393.95,394.9 394.85,395.4 394.99,394.7 394.94,394.6 394.78,394.5 395.61,395 395.84,395.7 395.89,396.1 396,396 396.11,395.8 396.58,395.3 396.84,394.8 396.74,395.3 396.59,395 397.55,394.1 397.16,394.3 397.18,393.6 397.57,394.1 398.32,393.1 397.87,392.9 398.27,393 398.56,392.9 398.57,392.8 399.46,392.5 399.12,391.8 399.35,391.8 399.73,391.4 399.45,392.1 400.46,391.5 400.36,390.6 400.4,390.5 400.49,390.7 400.83,390.3 401,390.2 401.21,391.4 401.51,392.4 401.74,393.5 402.01,394.3 402.38,394.4 402.2,395.5 402.24,396.4 403.01,396.8 402.66,397.3 403,398.6 402.97,398.9 403.05,400.5 403.33,401.3 403.98,401.9 404,403 404.1,402.6 404.63,402.5 404.52,402.9 404.53,402.6 404.64,402.8 404.89,402.1 405.77,402.3 405.43,401.9 405.4,402.3 405.82,402.2 405.96,402.3 406.75,402.2 406.3,401.3 406.38,401.2 406.81,401 406.82,400.9 407.22,400.8 407.72,400.5 407.75,400.1 408,400 408.07,400 408.32,399.8 408.6,400 408.47,399.5 408.84,399.2 409.33,398.4 409.31,399.2 409.98,398.8 410.26,399.3 409.68,399.2 410.04,398.5 410.69,398.7 410.25,398.8 411.29,397.9 411.09,397.5 411.41,397.4 411.64,396.8 411.71,397.4 411.86,397.1 412,397 412.23,397 412.5,397.1 412.91,397.2 413.19,397.3 412.58,397.2 413.61,396.3 413.77,395.6 413.24,396.2 414.02,396.7 413.84,395.9 414.32,396.1 414.75,396 414.96,395.5 415.15,396.2 414.74,395.7 415.1,395.5 415.09,395.5 415.38,395.1 415.75,394.9 416,395 416.31,395.1 416.65,395.3 416.47,395.3 417.08,395.2 417.45,395.8 417.46,396.1 417.83,395.8 417.29,395.7 417.37,397.1 418.49,397.8 418.12,397 418.87,397.7 419.01,397.8 419.05,397.8 419.16,397.4 419.41,397.5 419.04,397.9 419.45,398.4 419.66,398.7 420,399 420.26,398.9 420.38,399.4 420.39,399.3 421.04,399.6 420.63,399.2 420.97,399.7 421.45,400.1 421.45,399.5 421.98,400.1 422,400 422.35,400.6 422.4,401.2 422.39,401.5 423.28,401.7 423.46,401.8 423.38,401.7 423.63,400.9 423.98,400.6 424,401.4 424,401.5 424.19,401.8 424.49,402.5 424.82,402.2 424.94,402.6 425.17,402.3 424.81,402.5 425.05,402.3 425.23,402.6 425.85,403 426,403 425.95,402.9 426.38,403 427.02,403.2 427.1,402.7 427.24,401.8 427.45,402 427.13,401.6 427.28,401.3 427.9,401.3 428,401 428.26,400.8 428.52,401 428.39,400.3 428.61,400 428.88,400.3 429.65,399.7 429.81,399.9 429.23,399.7 430.02,399.3 430,399.5 430.11,398.9 430.24,398.3 430.26,398.6 430.56,398.4 431,398.5 431.45,399.4 430.91,400.8 431.92,400.9 431.72,401.9 432,403 432.36,403.4 431.98,404.1 432.96,403.9 432.7,404.5 433.03,405.3 432.97,405.9 433.28,406 433.75,405.4 433.71,406.1 434,406.5 434.65,406.8 434.84,407.4 434.13,407.3 435.13,407.2 435,408 435.35,407.8 435.12,407.5 435.29,407.6 435.78,406.4 436.5,406.9 435.74,406.4 436.34,406 436.48,405.8 436.99,405.3 437,405 436.95,405 436.93,404.9 437.49,404.9 437.81,405.3 438.26,404.4 438.26,404.2 438.3,404.5 438.17,404.3 438.57,404 439,404 439.12,404.1 439.83,403.8 439.41,405 440.03,405.9 439.81,405.8 440.53,406.2 440.35,406.7 440.33,407.2 441.06,407.1 441,407 441.29,407 440.94,406.4 442.09,407.1 441.36,407.3 441.94,407.2 442,406.6 442.3,406.7 442.15,406 442.76,405.7 443,406 443.41,406.4 443.44,407 443.79,406.7 443.47,406.8 443.96,406.8 444.19,406.7 444.51,406.8 444.27,406.6 444.94,407.2 445,407 445.04,406.8 445.1,405.9 445.35,404.8 446.25,405.2 446,404.5 446.25,403.5 446.16,403.7 447.03,402.3 447.22,402 447,401.5 447.55,400.6 446.93,399.7 447.44,399.4 447.47,398.2 448,398 447.98,398 448.71,397.6 448.69,397.4 449.12,397.2 448.59,397.7 449.37,397.6 449.03,397.4 449.14,397.6 449.59,397.5 450,398 450.14,398.2 450.71,398.6 450.32,399.2 451.2,399.1 450.54,399.2 451.47,399.4 450.94,399.3 451.13,398.5 451.85,398.9 452,399 452,398.9 452.17,399.1 452.31,398.8 452.4,399.6 452.64,399.2 453.38,399.7 453.05,399.6 454.01,399.1 453.56,399.8 454,400 454.44,399.7 454.34,399.3 455.06,399.4 455.04,399.6 454.78,399.9 455.16,399.7 455.1,399.4 456.07,399 455.62,399.7 456,399.5 456.18,400.3 456.33,400.5 456.62,400.1 457.22,400.3 456.78,401.1 457.28,402 457.64,402.3 457.33,402.8 457.93,403.1 458,403 458.46,402.7 458.8,402.7 458.41,402 459.3,402.3 458.65,402 459.24,401.2 459.24,400.2 460.01,400.3 460.01,400.4 460,400 459.96,398.6 460.14,398.3 460.8,396.9 460.93,395.8 461,396 461.17,392 461.5,388 461.72,386.5 462,384 462.05,383.6 462.67,383.7 462.24,383 462.56,382.9 463.25,382.9 463.44,382.9 463.81,383.3 464.05,383.4 463.83,383 464,383 464.39,382.5 464.36,383 464.43,382.4 464.76,382.3 465.19,382.9 465.26,382 465.86,381.6 465.89,380.9 465.74,380.8 466,381 466.07,379.8 466.04,379.4 466.64,378.4 466.89,378 466.76,376.8 467.69,377 466.99,375.5 468.08,375.8 468.05,374.7 468,374 468.02,373.4 468.38,373.7 468.86,372.6 468.49,371.6 469.24,372.5 469.31,372.3 469.16,372.3 469.72,371.6 470.09,371 470.13,371.8 469.98,370.7 470.35,370.8 470.27,370.4 470.75,370.1 471,370 471.45,369.4 471.57,368.3 471.35,368.4 472.02,367.9 472.05,367.3 471.96,366.1 472.4,365.2 472.32,364.8 473.07,364 473,364 473.02,363.8 473.14,362.7 473.32,361.5 474,362 474.03,361.1 474.42,361.5 474.66,361.5 474.24,360.1 474.77,360.5 475,360 475.4,359.3 475.8,357.1 475.58,355.7 475.65,354.6 476,352 475.9,353.6 476,352.9 476.58,353.6 476.66,353.7 477,354 477.19,352.6 477.41,350.9 477.51,350.6 478.1,349.6 478.03,348.4 478.07,349.2 478.58,347.8 478.87,346.8 478.66,346.4 479,345 479.39,289.2 479.5,233 479.66,225.1 479.75,219.1 480.29,216.5 480.4,209.2 480.7,211.3 480.35,212.9 481,213.8 481.42,208.8 481.5,202.2 482,202.9 482.01,207.2 482.2,208.8 481.94,208.8 482.6,203.2 483.37,218.4 483.2,228.8 483.89,221.8 483.6,216.2 483.73,229.9 484.2,248.8 484.23,240 484.6,236.2 484.99,248.4 485.2,263.8 485.39,262.9 485.38,259.3 485.6,258 486,256.2 485.94,265.1 486.85,273.3 486.7,280 486.66,282.9 486.89,283.2 486.86,283.4 487.6,284 487.64,286.3 488.07,288.7 488.32,289.1 488.3,289 488.37,290.5 488.96,292.5 489.2,292 488.75,295.7 489.37,298.2 489.59,299.5 489.9,299 489.86,303.9 490.18,309.5 490.35,312.7 491.01,319.6 491,324 490.89,324.7 491.87,326.5 491.89,327.3 491.56,327.4 492,328 491.86,331.1 492.81,334.2 492.31,335.9 492.43,336.5 493,338.8 492.99,337.7 493.18,334.8 493.87,333.4 493.8,331.2 493.9,327.7 494.41,324.3 494.43,323 494.6,321 494.54,319 495.21,315.3 495.66,312.7 495.37,309.2 495.54,306.5 495.85,304.8 496.2,302 496.5,300.5 496.55,300 496.53,299.6 497.3,298 497.05,297.6 497.65,296.6 497.85,297.6 497.9,295.5 498.01,296 498.4,296 498.61,296.4 499.12,295.3 498.87,293.6 498.84,293.7 499.24,294.7 500.06,296.1 499.55,293.5 500.27,294.3 500.11,293 500.85,294.8 500.78,293.5 500.9,293.2 501.31,293.7 501.46,294.2 501.08,295.7 501.3,293.6 502.41,293.3 502.01,294.8 502.3,295.3 502.41,295.3 503.02,296.9 503.07,294.9 503.14,296.3 503.4,296 503.52,297.3 503.98,299.1 504.11,300.3 504.27,302.2 504.11,303.7 504.77,304.3 504.54,307.2 505,308 505.49,311.4 505.54,313 505.95,314.6 506.3,316.8 505.88,320.1 506,323.4 506.5,327 506.69,326.9 507.19,329.6 506.76,330.9 507.11,332 507.95,333.2 507.81,333.9 508,335.8 508.42,333.7 508.17,333.4 508.58,333 508.65,332.1 509.53,328.6 508.8,327.1 509.3,325.2 510.14,325.4 509.54,323.3 510.33,321.7 510.3,321 510.51,320.4 510.74,320.5 510.87,321.1 511.32,321.5 510.94,320.9 511.32,319.6 512.13,320.5 512.14,320.3 511.69,318.4 512.32,317.1 512.97,317.3 512.84,317.4 513,318 513.32,317.9 513.39,317.7 513.7,316.5 514.19,317.6 514.31,318.4 514.62,316.8 514.14,315.6 514.81,316.3 514.92,316.9 514.9,317.4 514.98,315.5 515.61,316.1 515.63,316 515.84,316.5 516,316 516.15,315.9 516.41,317.2 516.75,317.1 516.74,316.4 517.03,316.2 517.5,317.1 517.26,318.4 517.67,319.9 517.46,318.9 517.85,317.4 517.97,318.7 518.38,318 518.41,318.2 518.88,319.4 519,320 519.07,319.7 519.5,320.5 519.83,321 519.37,320.9 520.04,319.8 519.74,320.8 520.82,321.7 520.98,321.7 521.05,321.5 521.03,320 521.49,321.6 521.31,322.9 521.77,321.2 521.97,322.3 522,322 522.43,322 522.51,320.5 522.48,319.9 522.39,320.3 523.25,317.7 523.18,317.9 523.09,317.9 523.16,315.6 523.69,315.4 524,314 524.08,313.7 524.69,311.9 524.45,311.6 524.35,311.4 524.84,311.7 524.97,310.2 525.63,308.2 525.89,309 526,308.5 526,308 526.13,308.3 526.3,308.2 527.05,306.7 527.08,308.5 527.41,306.6 527.61,306.1 526.92,306.6 527.12,308.2 527.43,309.2 527.55,309.7 528.39,307.6 528.61,308.2 528.64,307.2 528.92,308.2 529,308 529.2,308.4 529.47,308 529.3,308.6 530.13,306.9 529.62,305.8 530.68,307 529.94,305.2 530.67,305.4 530.91,305.9 530.6,305.4 531.17,304.6 531.4,306.2 531.71,305.4 531.86,304.6 532,304 532.17,303.6 532.67,303.3 532.18,302.4 532.36,304.3 532.76,303 533.2,303.6 533.65,304.6 533.36,306.4 533.68,305.7 534.06,304.5 533.92,306.2 534,304.9 534.95,305.2 534.66,305.9 535,306 535.24,306.5 535.66,307.9 536.04,307.2 536.12,307.6 536.13,307 536.69,308.2 536.5,309.3 536.82,307.5 537.23,306.8 537.37,309.4 537.3,308 537.67,309.2 537.34,310.3 537.61,309.6 538,310 538.34,310.8 538.28,310.4 538.45,311.4 538.71,312.5 539.05,312.7 539.67,312.4 539.18,313.8 539.7,313.9 539.46,313.1 540.09,313.5 540.25,315.2 540.36,315.2 540.47,314.3 540.85,315.7 541,316 541.33,316.5 541.28,317.3 541.48,316.6 541.35,316.7 542.19,316.2 541.77,318.1 542.14,317.1 542.58,318.8 542.91,318.1 543.08,319.2 543.5,319.5 543.53,319.6 543.85,319.5 543.82,320.2 544,320 544.12,320.3 544.48,320.6 544.69,322.5 545.08,323.1 545.17,323.2 545.17,324.8 544.92,325.9 545.82,326.3 545.59,326.7 546,326.8 546.37,326.6 546.2,325.3 546.16,325.4 546.35,324.6 547.13,324.5 546.85,322.7 547.21,322.2 547.69,322.1 547.32,321.3 548.36,319.9 548.64,319.3 548.08,319.5 548.31,319.8 548.83,319.2 549,319 549.11,318.8 549.19,319.6 549.39,318.1 550.18,319 549.72,319.4 550.24,318.2 550.83,317.9 550.6,318.4 551.3,316.6 551.32,318.2 551.45,318.2 551.64,318.6 551.63,317.3 551.63,316.6 552,316 552.05,316.7 552.57,316.3 552.3,315.4 553.24,316 552.59,317.9 552.87,315.9 553.55,317.4 553.61,318.4 554.13,317.6 554.32,317.1 553.81,317.6 554.38,316.3 554.94,316.9 554.79,317.1 555,318 555.14,319.4 554.99,319.8 555.77,321.6 555.64,322.9 555.68,322.9 556.08,325.7 556.07,327 556.18,327.2 556.67,329.4 557,330 557.46,331 556.92,331.7 557.71,332.6 557.34,333.4 557.94,335.2 558.67,337.2 558.66,337.9 558.19,339 558.95,339.4 559,340 559.36,340.8 559.14,341.6 559.98,342.3 559.6,340.3 560.03,339.4 560.14,339.1 560.48,339.6 560.23,339.8 561.02,339.9 561,341 561.04,339.9 561.5,339.7 561.37,340.5 562.27,340.8 562.07,339.4 562.37,337.7 562.73,338.5 562.43,338.3 562.73,336.7 562.54,337 563.56,336.1 563.8,336.2 563.61,335.1 563.85,334.9 564,335 564.3,335.4 564.63,334.6 564.76,334.9 564.43,335.6 565.35,335.4 565.28,333.1 565.34,333.3 565.19,332.8 566.16,333 565.52,333.7 566.05,333.4 566.7,333.9 566.44,332.7 566.77,331.8 567,332 567.2,331.6 567.14,330.7 567.28,330 567.63,329.6 568.01,330.5 568.21,330.5 568.31,329.5 568.12,330.6 569.22,331.1 569.47,332.2 569.01,330.8 568.98,329.4 569.59,330.2 569.88,329.6 570,330 570.14,329.8 570.23,328.8 570.94,330.3 571.16,328.9 570.69,327.7 570.88,328 571.69,329.4 571.71,329.9 572.22,329.7 572.17,330 571.71,330.6 572.41,329.2 572.35,329.1 572.81,328.3 573,328 573.37,327.9 573.65,327 573.86,327.2 574.14,328.3 573.91,328.6 574.13,326.7 574.44,326.5 575.04,326.9 574.43,325.1 574.87,324.7 574.72,324.7 575.12,324.2 575.46,325 575.62,325.5 576,325 576.05,326.2 576.11,327.9 577,326.4 577.07,327.5 577.42,327.6 577.52,329.2 577.83,330 577.92,328.7 577.89,328.9 578,330 578,329.9 578.76,330.7 578.28,331.1 578.56,332.9 578.55,332.1 579.66,333.7 579.47,334.8 579.84,335.6 579.87,336.4 580,336 580.14,336.5 580.78,337.7 580.52,337 581.25,336 581.16,337.2 581.45,336.5 581.77,338.3 581.2,337.9 581.56,338.1 582,338 582.33,338.4 582.44,337 582.35,337.4 582.35,337.2 583.09,337.4 583.61,337.9 582.95,336.3 583.77,336.3 583.7,336 584,335.2 584.12,335.5 584.55,335 585.02,334.8 584.74,336.4 584.52,335.6 585.42,336.1 585.33,335.3 585.57,335.7 585.75,336.7 585.73,337.5 586.18,338.1 586.51,338.1 586.93,338.6 586.88,337.6 587,338 587.17,338.4 587.31,339.2 587.4,341.4 587.35,341.8 587.75,342.1 587.86,342.8 588.24,343.4 588.57,344.6 588.88,346 589,346.8 589.28,345.7 589.87,344.1 589.94,343.9 589.52,341.5 590.37,341 590.51,339.7 589.9,338.9 591,338.9 590.97,336.6 591,335.2 591.14,335.7 591.04,337.1 591.67,336.3 591.32,337.5 591.72,338.3 592.2,338.5 592.3,339.4 592.41,340.2 592.72,340.5 593,340 593.3,341.2 593.02,341.3 593.82,342.4 593.67,341.7 594.12,343.5 594.31,345 594.41,344.1 595.08,345.3 594.61,345.3 595,346 595.19,346.1 595.35,347.6 595.2,347.7 595.67,349.1 595.8,348.8 596.12,349.9 596.71,349.9 596.6,350.5 596.91,350.4 597,350 597.23,350.7 597.32,351.6 597.97,352.6 598.06,351.7 597.87,351.6 597.73,353.2 598.12,354.7 598.67,355.4 599.03,354.9 599,355 599.2,355.4 599.61,355.6 599.34,354.7 600,355 600.17,356.6 600.56,355.7 600.69,357.3 600.88,356.6 600.88,355.9 601.04,357 601.26,356.8 601.35,357.5 601.39,357.3 601.96,358.1 602,358 602.37,358.7 602.87,359.7 602.51,360.1 603.07,360.3 602.74,361 602.87,363.2 603.76,363.4 603.33,363.8 604.02,365.5 604,366 604.3,366.3 604.15,366.7 604.27,367.2 604.38,367.8 605,366.8 605.05,367.8 605.05,367.5 605.41,368 605.32,367.6 605.66,367.4 605.91,367.1 606.41,368.5 606.64,369.2 606.83,369 607,369 607.25,369.3 607.4,370 607.92,370.2 607.41,369.9 608.29,371 608.66,371 608.15,371.2 608.67,372.2 608.38,371.7 608.85,371.8 609.45,371.9 609.46,373.3 609.36,373.7 609.78,374.8 610,375 610.35,375.3 610.24,375.6 610.95,375.1 611,376.3 611.39,375.9 611.4,376.4 611.41,375.9 611.91,377.2 611.73,378 612.36,377.5 612.63,378.6 612.8,378.6 612.87,378 612.69,378.4 613,379 613.09,379.1 613.45,379.8 613.86,380 614.21,380.6 613.65,380.6 614.36,380.2 613.95,380.6 614.7,381.4 614.59,382.6 615.42,382.4 614.85,383 615.1,382.9 615.72,383.6 615.63,383.7 616,384 616.05,384.3 616.77,383.9 616.92,384.7 616.33,385.3 616.75,386.3 616.99,385.3 617.3,385.1 617.61,386.1 618.06,386.5 618,386.8 618.17,386.7 618.2,387 618.99,386.1 618.76,385.8 619.42,386.1 619.66,385.9 619.53,386 619.35,385.8 619.52,386.1 620.23,386.2 619.85,385.2 620.57,385.3 620.38,385.2 620.68,384.3 621,384.2 620.99,384.4 621.34,384.8 622.09,385.8 621.58,386 621.51,385.7 621.88,385.5 622.3,385.9 622.96,387.3 622.88,388 623,388 623.14,388.6 623.96,389.8 623.45,389.6 623.51,390.4 623.92,391.2 624.4,390.8 624.76,390.8 624.96,390.2 625.27,389.6 625.36,389.9 625.36,390.2 625.92,390 625.93,390.2 625.97,388.8 626.4,389.4 626.67,388.4 626.3,388.6 626.83,388 627,388 627.43,386.9 627.16,386.5 627.17,385.7 627.65,384.3 628.48,382.6 628.05,381.5 628.31,380.4 628.17,378.9 628.56,377.8 629,376 629.33,375.3 629.2,373.8 630.03,373.3 629.46,372.1 629.67,371.3 630.62,371.8 630.57,369.7 630.23,369 630.68,369 631,368 631.02,367.7 631.47,368.3 631.91,368.1 631.98,367.6 632.37,365.8 632.06,364.6 632.66,365.7 633.05,364.5 632.57,364.5 633,364 632.98,363.9 633.13,363.3 633.25,362.8 634.12,361.2 633.94,360.9 633.77,359.4 634.2,359.5 634.35,359.9 635.03,359.3 635,358 635.28,356.9 634.95,357.1 635.53,356.7 635.99,354.8 635.6,353.3 635.75,351.5 636.06,352.4 636.54,351.7 636.64,350.8 637,349.2 636.84,350.5 637.43,351.8 637.97,353.8 637.66,356 638.57,357.6 638.4,358 638.4,358.6 638.84,359 638.67,357.5 638.84,358.2 639.79,356.5 639.12,357.2 640.07,356.9 640,356 640,357.5 640.31,357.3 640.56,358.8 640.31,359.9 641.22,361 640.86,361.8 641.39,360.8 641.76,360.8 642.05,362.1 642,362.8 642.29,362.7 642.76,361.7 642.81,361.2 643.02,360.4 643.36,361.2 643.03,360.5 643.46,359 643.95,358.2 643.72,357.9 644,358 644,358.1 644.12,357.2 644.71,358.2 644.96,358.7 644.98,358.5 645.61,360 645.17,360.5 646.03,361.2 645.56,359.6 646,360 646.24,360.1 646.05,359.8 646.96,360.7 647.06,361.5 646.84,360.5 647.61,362.3 647.4,362.3 647.28,363.1 647.94,363.4 648,362.8 648.43,362.8 648.42,362.2 648.97,361.2 648.73,360.7 649.46,359.7 649.46,360.6 649.09,359.6 649.27,358.1 649.87,358.4 650,358 650.43,358.1 650.55,358.1 650.58,356.3 650.73,356.4 651.35,356.2 650.9,355.5 650.94,354.6 651.2,352.8 651.74,352.1 652,352 652.08,351.9 652.74,351.6 653.06,351.3 652.87,351.9 652.6,353.4 653.16,354.4 653.2,353 653.46,354.1 654.17,354.9 654.13,355.4 654.48,355.5 654.83,355.9 654.92,354.4 654.77,355.2 655,355 655.05,355.5 655.23,356.1 655.42,356.3 655.59,356.7 655.94,355.1 655.84,354.9 656.86,356.3 656.91,356.4 656.67,356.3 656.69,356 657.52,354.8 657.47,355.5 657.78,355.7 657.87,356.1 658,356 658.35,356.6 658.25,356.7 658.49,357.3 658.38,356 658.53,357.4 659.17,358.2 659.28,358.6 659.51,357.9 659.93,357 659.98,356.9 660.47,356.4 660.61,356 660.28,356.8 660.95,357.6 661,358 661.32,357.3 661,358.1 661.18,357.4 662.15,356.6 662.13,356.4 662.41,355.6 662.45,355.4 662.63,355.9 662.68,354.5 663,354 662.95,353.2 663.66,353.5 663.81,353.3 663.45,352.9 663.53,352.3 663.93,351.9 664.4,349.4 664.93,349 665.01,348 665,347.2 665.05,346.9 665.8,347.3 665.67,348.4 665.9,347.1 666.22,348.2 665.92,347.1 666.49,347.9 667,349.4 666.77,349.2 667,348.8 667.26,347.8 667.14,347.1 667.51,345.3 668.08,345.3 667.51,343.2 668.02,342 668.2,341.6 668.81,340.5 668.73,340.7 669,340 669.32,339.2 668.93,338.5 669.13,337.3 669.9,338.5 670,338 670.26,340.9 670,343 670.52,345 670.91,348.9 670.94,350.8 671.25,353.1 671.36,357.5 671.6,360 671.8,359.7 671.81,359.7 672.41,359.7 672.72,359.5 672.79,360.6 673,360 673.29,359.9 673.32,360 673.21,357.5 673.54,357.9 673.63,355.9 673.8,354.5 674.42,354.2 674.95,354.1 674.72,352.8 675,352 675.42,350.4 675.24,349.2 675.67,348.8 675.49,346.9 675.99,344.9 676.49,344.5 676.03,341.4 676.45,339.9 677,338.8 677,338 677.06,337.2 677.02,336.1 678,335 677.93,335.2 678.45,336.5 678.17,336.5 678.09,335.6 679.05,334.6 679.05,333.7 679,334 679.44,333.2 679.46,332.8 679.61,332 680,331.6 679.54,332.5 680.6,331.4 680.03,332.2 680.39,331 680.65,332.5 681,332 681.21,331.1 680.93,329.7 681.62,330.7 681.46,328.5 682.28,328 682.07,328.7 682.3,327.6 682.41,326.8 682.6,326.5 683,326 683.2,325.8 683.35,323 683.25,319.6 683.56,316.5 684,316 683.89,314.3 684.23,313.7 684.57,313.5 684.33,310.6 684.79,309.9 684.71,307.9 685.15,306.3 685.6,304.2 685.92,304.1 685.63,304.1 686.42,306.4 686.67,307.1 687.13,305.6 687.08,307.2 687.1,306.8 687.19,308.6 687.75,309.5 687.63,308.1 688,308 688.01,308.6 688.55,308.7 688.67,310.2 688.89,310.1 688.97,310.9 688.77,309 689.61,309 690.02,310.2 689.69,311.4 690,311 690.34,312.6 690.73,313.2 690.25,314.4 690.98,315.6 690.51,313.7 691.47,313.9 691.89,314.4 691.74,313.9 691.84,315.8 692,316.8 692.02,316 692.42,315.4 693.02,314.2 692.38,315 692.6,314.1 693.07,314.7 693.24,314 693.94,312.7 693.64,312.5 694,313.2 694.22,312.8 694.58,314.2 694.7,315.7 694.94,317.3 695.23,316.2 695.13,315.6 694.94,315.6 695.94,317.4 695.63,318 696,319 696.25,318.9 696.36,317.7 696.44,319.1 696.52,319.9 696.7,317.8 697.5,317.7 697.71,318.3 698.01,318.1 697.58,318.7 697.52,316.6 697.86,316 698.16,316.3 698.31,316.5 698.73,315.9 699,316 699.32,317.4 699.37,319.1 699.31,317.7 700.02,319.4 700.28,319.3 699.74,320.2 699.97,318.9 700.25,319.4 700.75,320.6 701,320.8 701.42,320.3 700.95,319.7 701.19,318.9 702.03,317.9 702.39,316.4 702.19,318.2 702.59,318.1 702.27,317.2 702.92,317.2 703,316 702.97,315.4 703.76,313.3 703.44,313.4 703.73,311.3 704.01,310 703.83,308.5 704.63,306.7 704.24,306.9 704.65,306.5 705,306 705.35,305.1 705.57,304.8 705.62,306.2 705.49,306.7 706.21,305.8 706.44,302.9 706.47,302.5 706.88,302.9 706.78,301.6 707,302 707.13,301.8 706.98,300.9 708.1,299.4 708.04,298.9 708.07,298.7 708.44,298.7 708.73,300.9 708.59,301.1 708.85,300.1 709,299.2 709.17,299.5 709.57,299.4 709.84,299.6 710.11,301.4 710.44,303.7 709.77,304.8 710.33,306.3 710.25,305.3 710.91,306.7 711,308 711.47,312.4 711.38,313.9 711.28,317.6 711.46,321 712.19,323.2 712.4,324 712.73,324.7 712.77,325 712.89,325.7 713.05,325 713.72,325.2 713.13,325.5 713.83,324.1 713.61,324.9 713.77,324.1 714.13,324.3 714.68,325.7 714.72,325.3 715,326 715.15,326.3 715.11,325.8 715.92,327.2 715.83,328.4 715.64,329.4 715.76,330.1 716.39,330.2 716.81,329.8 716.88,331 716.56,331.2 716.71,330.2 717.2,330.8 717.43,331 717.65,331.7 718,332.8 718.29,332.6 718.41,331.4 718.96,332.7 718.61,330.9 718.68,330.4 718.94,329.8 719.24,329.3 719.98,331.3 720.18,331.6 720.06,330.2 720.03,329.4 720.6,328.3 720.39,328.9 720.75,329.2 721,329.2 721.08,329.3 721.64,328.8 721.28,330.6 721.63,330.5 722.14,329.5 722.33,329.4 722.48,330.4 722.17,330.4 722.34,332 722.91,330.6 723.24,332.3 723,331.5 723.69,331.1 723.97,332.2 724,332 724.04,332.2 724.06,332.7 724.91,332.7 724.53,332 725.06,331.7 724.97,332.6 725.4,333.7 725.12,333.3 725.64,333.2 726.37,332.4 725.95,334 726.66,333 726.89,333.5 726.86,334.3 727,334 727.33,334.4 727.35,334.2 727.87,334.2 727.69,334.2 728.36,333.6 728.67,333.8 727.91,333.7 728.47,334.6 729.25,336.8 728.93,335.8 729.3,335.8 729.18,335.9 729.82,337 729.85,338.1 730,338 730.2,338.3 730.16,338 730.69,337 730.72,338.1 731.26,339 731.34,338.5 731.13,339.8 731.25,340.6 731.57,339.6 731.86,340 732.53,340.1 732.56,339.3 732.29,339.3 732.7,340.7 733,340.8 733.33,340.8 733.56,341.3 733.83,341.5 733.62,341.3 734.21,340.7 733.79,340.5 734.82,339 734.82,339.2 735.16,338.3 734.66,337.4 735.3,336.2 735.84,335.2 735.36,335.3 735.62,336.2 736,336 736.31,335.9 736.59,335.4 736.96,335.1 736.82,334 737.1,335.5 736.91,334.8 737.05,333.8 737.63,333.5 737.32,332.5 738.05,333.1 737.8,332.6 738.18,331.5 738.33,332.8 738.64,331.9 739,332 739.32,331.5 739.23,332 739.88,331.5 739.86,331.1 739.53,329.6 739.88,329.7 740.15,329.9 740.31,330.2 741.17,329.1 741.03,330.5 741.17,329.7 741.35,330.5 741.94,329.4 741.64,329 742,329 742.12,329.2 742.16,330.5 743.07,331.9 743.29,330.8 742.86,329.8 743.39,330.5 742.97,331.3 743.45,332 743.77,333 744.46,334.1 744.2,333.9 744.21,333.3 744.64,334 744.73,334.1 745,334 745.06,334.7 745.49,335.2 745.27,336.2 745.77,335.6 745.74,337.7 745.98,338.9 746.15,339.3 747.06,338.1 746.76,339.7 747,340 747.24,341 746.93,340.5 747.65,341 747.8,341.5 747.78,341.2 748.28,342.7 748.64,342.9 748.14,342.6 748.53,343.9 749,345 748.96,345.7 749.71,346.3 749.94,347.3 749.91,346.6 749.61,347.4 749.82,348.8 750.31,348.8 750.21,348.7 750.55,349.4 751,350 751.22,351.7 751.79,353.9 752,355.3 751.62,358.2 752,360"/><polyline stroke-width="3.8" points="147.97,283.8 148,283 148.25,281.5 148.39,281.7 149.02,283 148.63,281.2 148.63,282.3 149.11,281 149.03,282.2 149.85,281.4 149.53,280.3 150,279 150.35,280.7 150.79,279.5 150.53,279.4 150.92,279.4 151.26,279.2 151.12,278.7 151.6,277 152,280 151.54,282.8 152.18,283.7 152.1,283.4 152.95,287.5 153.04,287.7 153,289.8 152.94,289.2 152.91,286.6 153.68,286.1 153.8,285.4 154,283 154.08,282.8 154.66,281.5 154.79,279.6 154.57,276.7 155,277 154.73,272.7 155.01,271.7 155.54,268.6 155.78,267 156,263 156.46,263.2 156.73,261.6 156.82,260.1 156.91,259.6 157,256.2 156.91,265.5 157.24,270.7 157.47,277.4 157.53,284.8"/><polyline stroke-width="3.8" points="169,287 169.16,283.2 169.76,276.9 169.79,272.5 170.16,268.6 170,265 170.07,263.1 170.4,263.7 170.61,262.1 170.87,263 171.16,261.4 171.11,260.9 171.03,259.4 171.96,258.4 171.73,257.3 172,257 172.17,255.8 171.96,256.5 172.86,254.2 172.37,256.4 173.13,253.6 173.36,253 173.36,251.3 173.44,251 173.81,253.1 174,253 174.53,252.5 174.37,248.9 174.72,246.9 175.17,244.3 175,245 175.4,244.6 175.7,243.2 175.23,244.5 176.03,243.6 175.78,241.2 176.11,238.2 176.3,239.9 176.72,237 176.91,235.9 176.82,235.1 177.35,233.4 177.4,233.6 177.78,240.1 178,247 178.1,249.5 178.51,250.5 179.03,250.8 178.8,251.4 179.03,253.6 178.92,254.6 179.69,260.1 179.56,260.5 179.6,261.9 180,265 180.06,266.4 180.03,267.3 180.84,273.1 181.14,276.9 180.76,279.5 180.97,279.6 181.08,280.6 181.59,284.8 181.69,286.3 182,289.8 182.42,288.6 182.46,287.6 182.67,283.9 182.36,280.6 183,279 182.97,276.7 183.27,274.6 183.59,276.2 184.04,276 183.82,274.3 184.02,272 184.76,271.2 184.4,270.9 184.53,267.8 185,267 185.09,263.8 185.12,260.7 185.68,260.4 186.03,257.5 186.42,254.7 186.29,251.9 186.63,252 186.96,250.1 186.9,248.5 187,246.2 187.24,247 187.64,247.4 187.58,249.6 188.13,252.5 188,255 188.35,258.8 188.18,262.1 188.7,266.4 188.45,271.3 189,275 188.99,274.1 188.94,275.7 189.39,274.9 189.57,272.6 189.9,271.8 189.78,274.4 190.59,273.3 190.14,273.7 190.68,272.7 191,273 191.18,275.4 191.05,278.3 191.82,281.9 191.84,284.4 192,287 191.95,288.9"/><polyline stroke-width="3.8" points="244.56,289 245.04,287.3 245.3,287.6 244.54,286.6 245.04,281.9 245.46,281.5 245.22,278.2 245.6,276.2 246,275 246.02,271.8 246.05,270.4 246.75,270 247.03,269.1 246.77,267 247.08,263.7 247.81,260.9 247.89,258.7 247.57,257.2 248,255 247.94,253.2 248.28,249.1 248.52,246.7 248.9,246.4 249,242.2 248.87,244.7 248.96,246.8 249.97,250.3 249.89,254.4 250,255 249.89,258.4 250.4,261.3 250.54,262.8 250.94,267.7 251,269.8 251.25,267.2 251.37,263.2 251.73,260.2 251.68,259.2 252,255 251.99,240.7 252.5,224 252.85,220.6 252.92,218 252.88,217.1 253.81,214.3 253.21,211.2 253.69,212.6 254,211.2 253.92,213.1 254.3,213.7 254.7,215.8 254.96,216.2 255,212.8 255.01,212.7 255.87,209.9 255.75,212.2 256,208.5 256.28,211.2 256.14,210.8 256.83,209.8 256.19,208.2 257.04,205.9 257,206 256.99,203.3 257.33,202.5 257.33,200.5 258.08,200.2 257.93,199 258.1,196.1 258.23,193.7 259.04,191.6 258.6,190.7 259,188 259.41,187.4 258.99,189.3 259.48,188.2 259.85,186.4 260.13,187.5 259.95,188 260.29,187.3 260.89,183.1 260.65,182.8 261,182 261.52,182.9 261.44,180.9 261.39,180.5 262.27,179.9 261.77,180.2 262.32,180 262.51,177.7 262.6,177 263.1,176.6 262.74,176.1 262.93,176.4 264.03,180 263.55,179.2 264,179.5 264.09,180.2 264.05,181 264.5,180.2 264.44,179.7 264.8,182.8 265.66,186.6 265.17,187.4 265.45,188.7 265.76,189 266,188 266.44,195.6 266.05,198.8 267.06,203.1 266.59,206.1 267,214 266.89,217.9 266.92,218.7 267.83,222 267.94,225.8 268,230 267.76,230.5 268.63,234.3 268.3,232.6 268.81,235.6 269,236 269.51,236.1 269.04,236.1 269.92,239.2 269.69,239.2 270,241 270.47,240.7 270.83,238.8 271.1,241.1 270.5,239.1 270.67,238.8 271.27,240.9 271.39,241.4 272.04,239.8 271.65,237.7 272,238 272.68,240 272.51,240.7 272.63,240.9 272.63,238.6 273,239 273.34,242.2 273.53,249.5 273.56,253 273.91,257.5 274,261 274.47,267.3 274.62,271.9 274.59,274.4 274.52,278.2 275,283.8 275.52,285.2 274.92,283.7 275.75,281.9 275.66,282.8 276,282.2 276.47,287.2"/><polyline stroke-width="3.8" points="479.39,289.2 479.5,233 479.66,225.1 479.75,219.1 480.29,216.5 480.4,209.2 480.7,211.3 480.35,212.9 481,213.8 481.42,208.8 481.5,202.2 482,202.9 482.01,207.2 482.2,208.8 481.94,208.8 482.6,203.2 483.37,218.4 483.2,228.8 483.89,221.8 483.6,216.2 483.73,229.9 484.2,248.8 484.23,240 484.6,236.2 484.99,248.4 485.2,263.8 485.39,262.9 485.38,259.3 485.6,258 486,256.2 485.94,265.1 486.85,273.3 486.7,280 486.66,282.9 486.89,283.2 486.86,283.4 487.6,284 487.64,286.3 488.07,288.7 488.32,289.1 488.3,289"/></g>
<g fill="none" stroke="#5599D7" stroke-linejoin="round" stroke-linecap="round"><polyline stroke-width="3.2" points="28,431 28,426.8 27.97,426.7 28.72,425.9 28.33,425.7 28.77,426.7 28.98,426.9 28.85,426.7 29.77,426.5 29.83,426.2 29.56,426 30,425.7 29.95,425.4 30.37,425.6 30.98,425.4 31.22,425.1 31.3,424.3 31.64,423.8 31,424.1 31.33,423 31.77,423.2 32,422.6 32.14,422.9 32.48,422.9 33,423.3 33.23,423.8 33.49,424.4 32.86,424.5 33.86,424.9 33.67,425.3 33.64,424.9 34,424.7 33.96,424.2 34.87,424.2 34.9,422.8 34.45,422.3 35.27,421.6 34.74,421.9 34.94,421.3 35.44,421 36.06,420.4 36,419.4 35.9,419 35.96,418.9 36.55,418.1 36.51,418.2 37.44,417.1 37.62,417.1 37.5,417.3 37.73,418.4 38.02,419.7 38.26,420.7 38.36,422.3 38.79,422.9 38.64,423.5 39,424.7 38.86,425.9 39.51,426.6 39.76,426.7 39.42,428.2 40.04,429.3 40.18,430.3 40.5,431 40.39,430.5 41.39,430.7 41.1,430.2 41.18,430.4 41.38,430.1 41.86,429.9 42,430 41.94,430.4 42.63,430.8 42.32,430.7 42.54,431.5 42.94,431.2 42.8,431.9 43.23,431.9 43.54,432.8 43.62,433.1 44,433 44.17,433.5 44.04,433.3 44.29,433.6 45.14,434.2 44.78,433.8 45.34,434.5 45.25,435 45.4,434.4 45.68,435 46,435 46.15,435.1 46.07,435.9 47.04,435.2 47.29,436.2 47.45,436.2 46.92,436.9 47.74,437.2 47.62,437.3 47.71,437 48,437.2 48.08,437.5 47.96,438.2 48.79,438.9 49.2,439.4 49.08,439.8 49.45,439 49.2,438.9 49.62,439.7 50.04,440 50,440.4 50.4,440.6 50.67,440.9 50.3,441.1 51.12,441.5 51.29,441.5 51.51,442.6 50.91,443.1 51.95,443.3 51.68,443 52,443.5 52.19,443.5 51.92,444.1 52.23,443.6 52.37,443.6 53.35,444.8 53.2,444.3 53.21,444.5 53.74,444.8 53.72,445.3 54,445.6 54.23,444 54.29,443 54.28,441.2 54.9,440.1 54.88,439.4 55.32,438.5 55.27,436.9 55.79,435.6 55.9,434.2 56,433 56.31,433.2 56.33,432.8 56.98,433.2 56.67,434.2 57.29,434.7 57.16,434.2 57.71,433.9 57.97,434.6 57.89,435 58,435 58.25,435.4 58.06,435.3 58.14,436.5 58.4,436.5 58.68,437.8 59.54,437.6 59.74,437.9 59.92,439 59.84,440 60,440.2 60.21,440.4 60.02,440.4 61.03,440.3 60.62,439.2 61.33,439.2 60.88,438.7 61.52,438.4 61.5,438.8 61.74,438.4 62,438.3 62.2,438 62.32,438.8 62.26,439.1 63.06,439.2 63.02,439.3 63.34,439.1 63.05,439.6 63.84,438.9 63.81,439.4 64,439.3 64.07,439.3 64.48,439.2 64.33,439.4 65.25,440.1 65.21,440.1 65.55,440.3 65.17,440.8 65.14,440.6 65.74,441.1 66,441.4 66.34,440.7 66.84,439.9 66.75,439.7 67.2,439.4 67.14,439.5 67.52,438.8 67.42,438.8 68.19,438.4 67.68,437.6 68.35,436.7 68.59,436.5 68.6,436 68.74,435.9 69.11,435.6 69.49,435.9 69.73,435.5 69.55,435.3 69.41,435.7 70.36,435 70.09,434.9 70.61,435.2 70.48,434.5 70.83,434.7 71.14,434.5 71.15,435.3 71.08,435.2 71.83,434.7 72.26,434.2 71.67,435 72.15,435.4 72.7,435.2 72.81,434.6 73.04,434.6 73.16,434.3 73.3,434.3 73.41,434.6 73.64,434.9 74.03,435.3 73.84,435.5 74.45,435.9 74.92,435.5 74.35,436.1 74.58,436.9 75.36,436.6 75.4,436.9 75.51,437.3 75.43,437.2 76.17,436.9 76.2,437.8 76.22,438.3 76.45,438.1 76.32,438.9 76.73,439 77.06,439.4 77.32,439.3 77.72,439.5 77.88,439.7 78,440 78.09,440 78.54,440.4 78.37,440.3 79.06,440.5 79.28,441.2 78.88,441.4 79.13,441.4 79.71,441.6 79.6,441.4 79.58,442.2 80.65,442.7 80.35,443.2 80.75,443.1 81.35,443.2 80.88,443.4 81.27,443.8 81.62,443.7 81.78,443.5 81.9,443.8 82.09,444.6 82.35,444.9 82.53,445.2 82.68,446.6 83.41,447.5 82.8,448.7 83.49,449.6 83.45,449.5 83.56,450.2 84,451.2 84.31,450.7 84.2,450.5 84.68,450.5 85.01,450.5 84.84,450.1 85.63,449.7 85.34,449.5 85.59,449 85.34,447.7 85.7,446.9 86.2,446.4 86.44,446.6 86.75,446.2 86.76,445.7 86.9,445.8 87.58,445 87.3,445 87.62,444.5 87.72,444.2 88,443.8 88.1,443.8 88.24,443.8 88.35,443.5 88.48,443.5 88.61,443 89.19,443 88.92,442.8 89.51,443.2 89.35,443.8 89.9,443.7 90.67,443.1 89.99,443.1 90.26,443.4 90.65,443.8 90.55,443.3 90.98,443.8 91.37,444.1 91.49,444.2 91.73,443.8 92,443.8 92.05,444 92.73,444.4 92.12,444.6 92.39,444.1 92.54,444.1 93.35,444 93.1,445.2 93.58,446 94.22,446.3 93.53,446.7 94.31,446.1 94,446.8 94.84,446.4 94.76,446.3 95,446.7 95.11,447 95.53,447.4 95.64,447.9 95.67,448.5 95.73,448.2 96.18,448.6 96.07,448.3 96.71,448.8 96.69,449.2 96.65,449.2 96.72,449.7 97.66,449.7 97.2,450.1 98.14,449.8 98.38,450.3 98.15,451 98.58,451.3 98.53,451 98.77,451 99,451.4 99.05,451.6 99.5,451.4 99.17,451.3 99.94,451.2 99.51,451.8 100.67,451.7 100.46,451.7 100.88,452 101.09,452.5 100.69,452.7 100.78,452.4 101.03,453.1 101.92,452.7 101.95,452.9 102,453.3 102.29,452.7 102.48,452.5 102.88,452.5 102.9,451.9 102.61,451.5 103.29,451.7 103.11,451.6 103.56,451 103.38,450.8 103.98,450 104.25,449.1 104.32,449.4 104.71,449.2 104.65,448.4 104.84,448.9 104.8,448.2 105.14,447.5 105.72,447.6 105.94,447.2 106,446.7 106.18,446.3 106.58,446.2 106.59,446 106.72,445.7 107.4,445.6 107.63,444.4 107,443.4 107.39,443.4 107.94,442.9 108.25,441.9 108.13,441.4 108.64,441.1 108.39,441.2 108.6,440.2 108.58,439.9 109.46,439.2 109.88,439.4 109.98,439.6 109.46,438.7 109.96,438 110.23,437.7 110.62,437.2 110.58,436.7 110.87,436.5 111,436 111.09,435.7 111.41,435.1 111.39,434.8 111.56,434 111.97,434.2 112.49,434.4 111.94,434.4 112.11,433.1 112.64,432.6 113.05,431.6 113.01,431 113.7,430.7 113.36,430.6 113.73,429.9 114.18,430.1 114.51,430.5 114.04,429.5 114.89,429.6 115.13,429.1 114.79,428.7 114.81,427.9 115.65,427.8 115.59,427.7 115.9,427.2 116,426.7 116.21,426.2 116.23,425.4 116.98,425.2 116.71,424.7 116.95,423.9 117.15,423.9 117.06,423.9 117.62,422.6 118.15,421.8 118.43,421.8 117.73,421.2 118.45,420.6 118.38,419.9 119.21,419.6 119.17,418.2 119.21,417.7 119.75,417.9 119.44,417.3 119.71,416.8 120,416 120.11,415.7 120.71,416 120.5,415.3 120.43,414.7 121.48,414.2 120.93,413.5 120.98,413.3 121.84,413.6 121.93,414.2 121.51,414.3 122.66,413.3 122.18,412.4 122.44,412.6 122.63,412.6 123,412.4 123.32,412.3 123.67,412.1 123.71,412.6 123.37,412.2 123.68,413.1 124.52,412.7 123.95,413.7 124.63,414.4 124.41,413.9 125.49,413.7 124.83,413.4 125.03,413.2 126.01,413.4 125.49,413.2 126.5,414.6 125.96,415.4 126.74,414.8 126.71,414.8 126.66,414.8 127,415 127.23,415.7 127.43,416.2 127.63,416.7 127.5,417.8 128.43,418.3 127.88,419.2 128.74,420.1 128.37,419.6 128.35,419.7 128.91,421.3 128.81,422.2 129.75,421.6 129.94,422.7 129.81,423.2 130,423.6 130.18,423.3 130.45,422.5 130.6,422 130.63,421.5 131.1,421 131.64,421.6 131.74,421.4 132.08,420.2 131.42,419.4 132.23,419.1 132.35,418.5 132.87,417.9 132.58,417.7 133.17,417.5 133.03,417.9 133.31,417 133.34,415.8 133.75,416 133.9,415.3 134,415 134.09,414.5 134.67,414.2 134.95,413.7 134.66,413.8 135.01,413 135.07,412.5 135.78,412.6 135.25,412.3 135.67,411.3 135.64,411.3 136.02,410.2 135.95,409.9 136.89,410 136.89,409.8 137,409.5 137.18,409.2 137.14,408.7 137.48,408.5 138.19,407.2 137.69,405.9 138.3,405.8 137.93,404.1 138.11,403.4 138.48,403.6 138.89,402.3 139.13,401.7 139.55,401.3 139.32,400.4 139.87,400 140,399 140.38,397.9 140.06,396 140.53,394.8 141.13,394.5 140.92,392.6 141.58,391.6 141.29,389.6 141.74,387.7 142.24,386 142.07,385.6 141.93,383.8 142.74,383.1 142.45,382.3 142.86,381.6 143,380 143.42,378.3 143.43,375.9 143.45,375 144.21,374.1 144.24,373.1 143.76,370.3 144.21,368.6 144.96,366.4 144.97,365 145,364 145.14,362.8 145.1,360.1 145.6,357 146.15,355.5 145.56,354.9 146.09,352.5 146.15,349.8 146.79,347.7 146.59,346.3 147,345 147.06,342.3 147.13,340.5 147.71,338.5 148.05,334.8 148.04,332.4 148.33,330.6 147.96,328 148.95,326.6 148.84,323.6 149,321 149.1,320.8 149.74,321.2 150.08,320.1 149.48,319.7 149.84,320.1 150.28,320.2 150.43,318 150.58,319.2 151.16,318.6 150.99,317.9 151.52,317.8 151.01,316.4 151.64,317.2 151.95,316.4 152,316.2 152.38,317.5 152.2,318.4 152.78,316 152.65,317.3 153.07,317.2 153.4,316.4 153.29,317.1 153.65,316.1 153.92,316.9 154,317.8 154.11,313.8 154.01,312.8 154.58,309.4 154.8,307.3 155,307 155.43,303.3 155.41,301.4 155.17,297.4 155.61,293.4 155.62,292.3 156.18,290.2 156.16,285.5 156.3,283.6 156.81,279 157,275 157.48,275.1 157.8,273.6 157.8,269.5 157.54,269.2 158,267 158.45,264 158.57,260.4 158.61,257.9 159.16,256 159,255 159.13,254.3 159.16,253.6 159.69,251.3 159.36,248.7 160,247 160.45,243.2 160.85,242.4 160.83,242.7 160.36,239.8 161,238 160.91,232.7 161.88,222.7 161.58,216.8 161.46,210.2 162,201.2 161.87,203 162.52,201.3 162.24,204.7 162.4,202.2 163,204.8 163.67,200.3 163.16,196.3 163.1,192.5 163.99,186.1 164,182 164.03,180.7 164,183.4 164.49,183.6 164.75,183.4 165,180 165.15,183.7 165.25,189.5 165.52,191.3 165.62,193.6 166,200 166,204.2 165.93,205.9 166.3,210.5 166.57,216 167,220.8 167.43,213.9 167.33,205.3 167.16,195.7 167.8,189.4 168,180 168.32,173.7 168.03,167.5 168.27,164.7 169.28,156.5 169,150 168.96,144.7 169.31,143.8 169.57,135.5 170,129.3 170,129.2 170.37,128.4 170.37,130.4 170.41,132.4 170.92,133.4 171,138.8 171.65,128.7 170.98,123.8 171.63,122.6 171.81,119.5 172,113 172.26,107.5 172.5,98 172.93,94.2 173,92.2 173.26,94.5 173.39,93.3 173.17,93.9 174.1,92.2 174.04,91.2 174.18,91.5 174.5,93.8 174.7,93.7 174.79,86.8 174.91,80.7 175.4,81 175.33,76.4 175.56,72.4 175.88,72.3 176.42,73.9 176.6,70 177.03,65.1 176.86,67.6 176.97,68 177.4,65 177.73,62.3 178.08,65.1 178.34,62.6 178.3,66 178.5,63.9 178.73,60.7 179.1,62.2 179.02,70.7 179.85,77.5 180.25,82.3 180,84 179.84,88.6 180.85,90.3 180.96,90.1 180.74,95.3 181,95 181.16,102.4 181.41,105.9 181.7,112 182.35,115.9 181.99,121.4 182.08,131.3 182.5,135 182.47,142.5 183,154.8 183.04,151 183.12,141.3 183.66,134.4 183.81,126.6 184,120 184.44,118.2 183.97,115.7 184.3,108.5 185.25,102.5 185,101 184.83,98.2 184.96,93.1 185.37,92 186.23,85 186,81 186.39,75.9 186.85,71.7 186.52,70.4 186.9,70.7 186.76,71.4 186.86,75.6 187.4,81.2 187.61,80.2 188,84 188.21,96.7 188.6,112 189.03,111.7 189.27,112.1 188.82,112.9 189.75,111.5 189.5,113.3 189.8,115 189.89,112.9 189.78,111.7 190.5,112.2 190.65,117.5 191.12,123 191.58,126.7 191.65,131 191.5,140 191.33,141.6 192,150 192.56,155.4 191.95,161.6 192.21,163.1 192.75,167.9 193,170 193.37,177.9 193.45,182.1 193.99,181.7 193.4,183.7 194,190 193.75,194.3 194.62,195.4 194.61,196.7 194.53,203.6 195,206 195.46,210.7 194.91,214.4 195.64,215.4 195.53,221.3 196,222.8 196.15,220.4 196.57,214.7 196.83,207.5 197.15,204.9 197,199.2 197.7,205 197.6,215 198.03,227.4 197.9,239.8 198.3,253.8 198.11,237.3 199,223.9 199,206.2 199.13,212.9 199,213.8 199.7,216.8 200.23,220.3 200,225 200.3,228.2 200.4,230.7 200.59,232.7 200.5,236.2 201,236.8 200.79,238 201.34,235.1 201.3,233.9 201.45,230.4 202,229.2 201.89,230.1 202.86,233 202.67,237.2 202.95,240.2 203,245 203.14,246.5 202.94,250.8 203.42,256 203.92,258.1 204,262 204.22,265.7 203.96,266.5 204.46,268.9 204.65,271.1 205,273 204.81,275 205.48,281.6 205.81,284.6 205.38,289.7 206,293.8 205.86,292.6 206.15,287.1 206.92,284.9 206.46,280.8 207,276.2 207.6,277.6 207.83,282.7 207.72,286.1 207.58,290.3 208,291 208.49,292.5 208.64,293.8 208.98,296.8 208.98,300.9 209,303 209.13,304.1 209.56,305.1 209.84,307.8 210,309.9 210.01,309.5 210.51,311.3 210.26,311.5 210.34,313 210.53,314.6 211,315 211.24,316.4 211.84,317.9 211.69,320.9 212.18,323.2 212.33,322.8 212.69,325.6 212.29,327.5 212.75,327.5 212.94,328.8 213,331 213.09,332.1 213.56,334.7 213.66,335.3 213.94,336.5 213.79,338 214.59,340.8 214.18,342.3 214.82,342 214.88,344.1 215,345 215.08,347.9 215.35,351.2 215.85,354.5 215.43,358.5 216,360 216.24,361.5 215.95,363.3 216.72,364.4 216.61,364.9 216.63,365.8 216.96,366.4 217.7,368.3 217.84,368.6 217.81,369 218,370 218.42,371.7 218.78,372.2 218.75,373 218.47,375.4 219.53,377.1 219.24,379.3 219.6,380.8 219.75,379.8 220.45,377.1 219.95,374.6 220.02,374.1 220.96,372.5 220.65,371 221.33,369.8 221.32,367.9 221.35,365.6 221.6,364 221.58,361.5 222.29,358.9 221.87,356.7 222.07,356 222.56,355.3 223.03,353.3 223,350 223.05,349.4 223.6,347.7 223.4,348 223.5,348.8 223.59,347.8 224.58,346.8 224.05,346.5 224.74,345.4 225.01,345.1 225,345.2 225.51,347 224.97,349.2 225.73,350.9 225.43,352.7 226,356.8 226.38,356.6 226.76,356 226.66,355.6 226.32,354.3 226.75,352.4 226.82,352.1 227.48,353 227.98,352.5 228.01,350.6 228,350 228.49,347.2 228.7,346.1 228.7,343 228.55,339.4 229,338 229.61,332.4 229.87,327.7 229.92,324 230.24,322 230,318 230.38,317.3 230.77,315.8 230.16,316.6 230.62,318 230.76,315.7 230.98,314.2 231.89,315.6 231.94,315.9 231.92,316 232,315 232.23,313.2 232.63,311.1 232.68,310 232.93,309.7 232.76,307.5 232.91,307.7 233.87,307.2 234.04,305.3 234.04,304.4 234,303 234.09,302.5 234.46,301.7 234.75,300.7 235.09,301.3 234.64,300.9 235.33,299.9 234.9,299.9 236.08,296.6 236.01,295.3 235.9,295.1 236.26,294 236.43,295.1 236.46,294 236.84,292.5 237,291 237.45,289.6 237.17,289.1 237.2,287.9 238.14,285.9 238.37,286.3 237.81,283.8 238.4,282.9 238.41,283.3 238.85,282.6 239,281 239.25,279.4 238.96,277.7 239.62,278 239.68,278.5 240.28,279.6 239.7,276.8 240.31,278.4 240.29,275.4 240.63,275.8 241,275 241.28,273.2 241.68,273.6 241.73,272.1 241.94,269.2 242.09,268.5 242.45,266.8 242.61,264.1 242.15,265.2 243.06,262.2 243,261 242.97,259.3 242.93,258.4 243.4,258.4 244.2,258.1 243.9,253.7 244.46,250.9 243.97,248.6 244.94,246.9 244.7,247 245,247 245.63,243.5 245.38,240.9 245.34,240.8 246.12,236.4 246,235 246.08,231.6 246,226.2 246.54,224 246.49,218.2 247,214 247.25,207.1 247.42,204.5 247.5,200.5 248.11,194.6 248,192 248.5,191.2 248.07,189.4 248.93,190.8 248.41,191.1 248.66,193.3 249.56,190.7 249.4,190 250.05,193.6 250,200 250.61,204.5 250.35,205.3 250.43,211.9 251.07,214 251,218 251.48,225.6 251.12,232.8 251.72,239.3 251.92,244.9 251.77,250.2 252.19,258.4 252.5,263.8 252.84,260.1 252.58,256.1 253.48,252.4 253.77,248.6 253.97,245.1 253.74,241.7 254,240 254.13,237.1 254.13,235.1 254.42,232.2 254.38,232.5 255.35,229.3 254.96,227.3 255.01,227.3 255.14,222 255.99,219.9 256,218 255.97,217.2 256.56,213.7 256.63,211.3 256.9,209.8 256.95,212.1 257.32,209.7 256.96,210.1 257.48,207.3 257.68,206.9 258,206 258.12,206.3 258,203.8 258.32,200.9 258.72,203 259.46,201.2 259.47,202.6 259.23,198.9 259.37,198 259.64,196.6 260,196 260.17,195.2 260.51,194.5 260.12,195 260.76,195.9 261.46,193.3 261.05,193.9 261.34,190 261.48,190 261.84,189.1 262,190 262.06,189 262.35,190.8 262.38,187.7 262.73,185.9 263.44,189.7 262.85,190 263.21,188.1 263.6,188.5 263.81,187.9 264.21,191.7 264.17,197 264.5,198.8 264.89,196.2 265,193.2 264.88,197.2 265.72,201.6 265.29,206.9 265.8,213.8 265.88,208.1 265.98,203.7 266.5,201.2 266.82,207.2 267.45,216.1 267.2,226.8 267.25,224.4 267.98,217.8 268.09,216.6 268,211.2 268.38,217.1 268.76,222.2 268.4,228.2 268.8,230.8 268.89,226.2 269.62,223 269.5,216.2 269.4,222.5 269.53,227.5 270.23,232.6 270.3,233.8 270.5,231 270.36,228.1 271,223.2 271.43,226.4 271.34,228.8 271.57,229.7 271.57,230.1 272,234.8 272.53,230.3 272.43,227.8 272.82,226.3 273.06,222.9 273,221.2 273.32,221.2 273.65,223.7 273.7,226.5 274.12,228.9 274,232.8 274.62,232.7 274.09,229.2 275.06,229.9 275.06,225.7 275,225 275,225.5 275.41,224.1 275.22,221 275.8,218.2 275.58,223.4 276.03,227.2 276.5,235 276.98,240.4 276.87,240.5 277.57,245.8 277.77,250 277.7,250 277.86,254.7 277.95,253.8 278.12,254.1 278.34,257.9 278.45,259.6 279,263 279.59,265.7 279.19,267 280.08,269.2 280.02,274.1 279.67,278.6 280.3,280.8 280.45,281.6 280.57,281.7 280.75,279.5 281.19,280 281.35,277.9 281.7,278.2 282.2,279.7 282.43,281.4 282.72,281.6 282.6,284.8 282.44,283.6 283,285.8 283.22,284.5 283.05,282 284.15,279.8 283.98,275.9 284.21,275.3 284.3,272.2 284.89,277.4 284.67,283 285.31,287.4 285.49,290.4 285.22,294.2 285.7,298.8 285.54,294.1 285.95,287.8 286.58,282.9 286.65,278 286.66,274.9 287,271 287.36,270.1 287.12,268.2 287.9,268.8 287.86,266.8 287.91,265.2 288.3,263 288.2,262.2 288.64,262.3 289.27,261.5 288.95,257.1 289.87,256.4 289.7,253 290.02,253.1 290.36,253.7 290.63,251.7 290.57,253.2 290.39,249.5 290.83,250.3 291.24,251.7 290.95,251.2 291.71,249.9 292.1,250.8 291.9,248 291.93,248.4 292.3,247 292.43,246.7 292.97,246.8 292.46,247.2 293.43,246.4 293.7,245.8 293.66,245.7 293.8,245.6 293.75,241.7 294.01,243.3 294.75,241.6 294.81,241.2 294.8,239.8 295,239 295.22,234.8 294.99,232.1 295.2,230.4 295.33,226.9 295.64,224.1 296.06,223.6 296.34,221.4 296.93,216.2 296.81,212.4 297,210 296.77,208.5 297.85,205.2 297.47,204.3 297.58,198.7 298,197 298.04,198.8 298.66,198.6 298.72,195.8 298.7,196.2 299.27,195.7 299.4,195 299.61,197.3 299.79,200.6 300,203 300.17,210.5 300.35,214.8 300.48,221.4 301.27,229.4 301,234.8 301.63,232.6 300.99,227.2 302.06,223 301.74,221.6 302,220 302.32,220.1 302.47,221.4 302.28,218.6 302.45,216.8 302.55,215.9 303.6,213.6 303.61,216 303.6,215.2 304.07,216.7 304.08,217.4 304.64,219.7 304.04,220.7 305.09,222.4 305,224.8 304.98,221.8 305,223.4 305.69,223.2 306.05,222.7 306,223.2 306.45,228 306.49,230.5 306.84,233.1 306.58,236.4 307,238 307.56,239.7 307.52,240 307.8,241.9 308.1,241.8 308.19,242.4 308.4,245.8 308.92,243.2 309.21,238.6 309,235.6 309.56,230.4 309.18,227.1 309.33,224.2 309.66,221.8 310,220 310.59,219.7 310.34,220.6 310.93,219.2 310.83,218.2 311.38,214.6 311.4,214 311.24,214.1 312.2,214.4 311.61,215 312.48,213.5 312.49,209.6 312.6,209.2 312.65,207.2 313.15,210.9 313.77,213.2 313.88,211.4 313.89,214.5 314,214 314.08,214.6 314.57,214.5 314.36,216.9 314.8,216.3 315,218.8 315.41,218.5 315.34,218.9 315.76,218.6 315.47,216 316.22,214.5 316,215.3 315.97,214.2 316.55,213.5 316.99,212.9 317,211.2 317.62,211 317.19,216.1 317.35,216.2 318.19,220.3 318.42,222.9 318.4,222 318.49,222.8 319,223.5 319.06,223.9 319.49,225.8 319.32,226.7 319.56,228.1 319.54,229.8 320,230 320.39,230.9 320.53,232.8 320.92,236.3 320.52,235.7 320.73,237.2 320.78,239 321.62,239.6 321.26,240 321.63,242.9 322,244 322.22,246 322.17,246.3 323.05,244.1 322.38,244 323.04,247.4 323.62,247.7 323.16,248.8 323.75,247.6 323.65,248.7 324,248.8 324.49,243.9 324.05,243.2 324.69,241.2 324.73,236.8 325,236 325.01,235.1 325.63,235.1 325.21,231.9 325.44,228.3 325.9,226 326.4,224.2 326.46,223.3 326.43,224.5 327.45,226.1 327.65,228 327.56,226.4 328.03,226.6 327.95,228.6 328,230 328.37,230.4 328.34,233.1 328.12,231.7 329,235.3 329.18,235.6 328.71,238.5 329.88,240.2 329.97,242.1 329.86,241.3 330,242 330.15,242.9 330.09,241.7 331.02,242.9 331.17,244.3 330.75,244.2 330.99,244.7 331.27,247.9 331.77,247.8 332,248.9 332,250 332.14,251 332.87,251.8 332.67,254.9 332.37,254.9 333.11,257 332.87,256.6 333.61,257.2 333.37,257.1 333.8,258.8 334,260 334.31,260 333.94,260.5 334.3,260.9 334.53,263.8 334.79,266.6 334.72,265 335.42,266 335.76,268.1 335.56,268.3 336,268.8 336.02,268.6 336.55,268.8 336.36,267.7 336.89,265.8 336.62,267.7 337.45,266.6 337.04,267.9 337.81,269.6 337.7,268.4 338,267.2 338.52,268.9 338.08,270.3 338.31,267.9 339.19,266.9 338.98,268.3 339.2,268.4 339.55,269.2 339.6,270 340.14,273.2 339.74,276.2 340.64,277.4 340.61,279 341.04,280.6 341,284 340.98,285.3 341.33,284.5 341.21,286 342.07,287.1 342.42,290 341.77,291.6 342.35,291.3 342.87,290.4 342.95,292.1 343,294 343.15,295.8 342.91,297.4 343.33,300.2 344.08,302.3 344,306 344.34,305.7 344.02,305.6 345.01,307.8 344.85,307.5 345.02,309.8 344.86,309.4 345.79,308.4 345.29,310.9 345.63,311.6 346,311.8 346.22,311.3 346.47,308.7 346.15,308.4 346.57,305.5 347.48,305.9 347.56,304.5 347.17,304.2 347.93,302.5 347.8,301.2 348,300 348.21,299.1 348.58,298.4 348.57,296.3 348.4,295.5 349.46,295.8 349.11,294.6 349.35,292.8 349.38,291.5 349.73,291.8 350,290 350.12,287.3 350.71,286 350.15,284 350.31,284.8 351.01,282.3 351.06,282.5 351.19,278.8 351.26,276.7 351.81,276.3 352,274 352.47,274.6 352.86,272.9 352.82,271.8 352.76,273.8 352.9,274.5 353.62,272.7 353.11,272 353.6,271 353.46,271.5 353.89,274.7 354.17,277.5 354.46,276.7 355.1,279.5 355,280 355.07,281.2 354.93,281.5 356.03,280.6 355.54,283.6 355.54,284.9 356.31,286.8 356.33,287.8 356.9,287.6 356.57,287.7 357,288.8 356.87,284.9 357.1,283.3 357.97,280.8 357.86,277.6 358.47,277.3 358.4,274 358.65,275.5 359.29,272.1 359.48,269.6 358.78,267.4 359.49,267.9 359.6,268.2 360.02,268.3 360.52,269.8 360.49,272.8 360.95,273.1 360.52,275 361,278 361.21,276.6 361.21,277.1 361.61,275.4 362.11,276.7 362.3,275.4 362.4,276 362.3,276.4 363.01,279.5 363.24,278.8 363.33,280.2 363.57,280.6 363.48,281.3 363.96,282.3 364,284 364.07,283.7 364.26,285.2 364.94,283.5 364.37,284.5 365.01,286.4 365.53,287.9 365.78,288.8 365.9,287.7 365.88,287.7 366,288 366.39,287.7 366.47,287.4 366.93,290.6 366.73,292.6 367.49,291.1 367.56,291.6 367.34,292.7 367.64,294.1 367.85,295.7 368,296 368.33,296.2 368.31,296.4 368.45,298.1 369.09,300.8 368.93,300.6 369.21,302.4 369.24,303.4 369.69,304.2 369.65,306.2 369.71,307.3 369.93,306.5 370.01,308.8 370.58,308.2 370.86,309.4 371,310 371.01,311.2 371.71,311.1 371.18,311 372.14,312.1 371.93,313.8 372.59,315.8 372.09,315.7 372.74,317.4 372.76,318.7 373,320.8 372.96,319.8 372.93,320.7 373.71,318.7 373.87,317.7 374.49,317.3 374.05,317.6 374.38,316.2 374.81,317.2 374.81,316.9 375,316 375.39,316.1 375.38,316.5 375.87,316.7 375.7,314.7 375.87,315.1 376.24,313.8 376.16,312 376.35,314 376.31,314.2 377.02,312.4 377.55,311.5 377.31,312.1 377.6,311.2 377.83,312.4 377.6,311.8 378.44,313.7 378.31,314.3 378.56,314.4 379.02,315.3 378.97,316.2 379.51,316.4 379.28,319.1 379.85,319.9 380,320 380.01,321.8 380.01,321.8 380.48,324.5 380.58,323.8 380.97,325.8 381.55,326.3 381.17,328.9 381.36,329.7 381.86,330.6 382,332.8 382.1,330.7 382.27,327.7 382.15,325.6 382.61,323.1 383.33,319.9 383.19,319 383.63,315.3 383.97,313.4 383.66,312.2 384,310 384.36,309 384.06,307.4 384.71,305.1 384.46,304.2 385.27,302.5 385.56,302 385.72,303.4 386.03,301.2 385.99,301 386,300 386.41,299.6 386.02,298.2 386.66,296.2 387.25,295.9 386.9,294.3 387.31,295.8 387.55,296.8 388.05,297 387.86,295.8 388,294 388.04,292.1 388.34,290.8 388.19,289 388.63,289.7 388.85,287.3 389.48,285.7 389.47,285 389.6,282.2 389.7,284.5 389.7,287.2 390.57,286.2 390.1,286.5 390.74,287.9 391,290 391,291.1 391.41,292.3 391.29,294.2 392.17,298.6 392,300 392.02,299.8 392.71,300.3 392.56,299.4 392.31,301.7 392.76,302.4 393.52,303.5 393.68,304.7 393.76,302.7 393.6,303.6 393.97,302.9 394.11,303.6 394.14,306 394.35,306.5 394.78,306.2 395,306 395.1,305.8 395.19,305.8 395.78,307.3 396,307.6 395.51,306.2 396.58,305.3 396.87,306.3 396.49,306.4 397.15,307.7 396.98,307.6 396.94,307.4 397.79,309.3 397.35,308.7 397.79,309.2 398,308.8 398.33,307.5 398.82,305.2 398.44,303.9 398.52,302.2 398.59,303.1 398.76,301.2 399.41,299.4 399.84,298.9 399.8,299.9 400,299.2 400.35,299.5 400.1,300.4 400.14,301.4 401.21,301.6 401.2,301.8 401.11,302.1 401.28,300.3 401.9,300.4 402.05,302.2 402,302 401.94,305.1 402.01,307.6 402.54,308.1 402.48,311.8 402.98,313.5 402.82,316.3 402.91,317.7 404.07,320.1 403.94,322.7 404,326 403.78,328.9 404.73,330.2 404.96,332.9 405.13,333.5 405,336.8 405.12,335.6 404.94,334.6 405.97,334.9 405.95,333.6 405.94,332.7 406.35,330.2 406.77,330.7 406.28,329.8 406.68,327.2 407,326 407.25,326.1 407.09,325.6 408.08,324.7 407.95,326.1 407.73,326.1 407.72,323.8 408.1,322.6 408.67,324.9 408.58,323.9 409,324 409.14,322.5 409.21,321.2 409.24,321.3 410.07,319.8 410.13,319.2 410.4,318.5 410.17,317 410.39,318.7 410.51,318.5 410.92,316.3 410.74,316 411.33,315.8 411.78,314.9 411.77,315 412,314 412.2,314.1 412.29,314.2 412.68,314.6 412.6,315.1 413.37,312.5 413.5,312.9 413.67,313.5 413.96,312.5 413.71,312.7 413.6,311.2 414.02,310.5 414.52,310.5 414.64,312.2 414.62,311.8 415,311.2 415.14,312.2 415.41,312.8 415.54,313.9 416.17,314.6 416,314.1 416.22,314.7 416.83,316 416.79,315.3 417.2,313.8 416.53,314.9 417.55,313.7 417.51,315.8 417.42,315.9 417.95,316.4 418,316.8 418.04,316.4 418.64,317.2 418.53,318.2 418.36,316.7 418.84,315.6 419.04,315.5 419.76,316.5 419.92,315.7 419.57,315 419.59,316.3 420.69,314.5 420.31,314.9 420.87,315.8 420.91,315.3 421,315.2 421.16,315.7 421.1,315.5 421.23,316.4 422.3,318.4 422.25,318.7 422.32,320.2 422.38,322 422.26,323.5 422.83,324.2 422.73,323.4 423.34,325.9 423.4,326 423.69,327.3 423.96,327.1 424,328 424.25,328.7 424.66,328.8 424.34,329.7 424.73,330.9 425.38,329.3 425.12,329.2 425.42,328.9 425.92,330.4 426.19,332.6 425.9,333 425.93,334.3 426.46,333.2 426.67,333 426.55,332.3 426.93,331.9 427.5,332.6 427.16,333.5 427.43,335.1 427.81,335.9 428,336 428.13,337.1 428.43,337.9 429.07,339.7 428.68,338.2 428.92,340 429.27,340.4 428.94,339.4 429.5,341.9 429.86,342.1 430.39,343.5 430.33,342.5 430.44,342.2 430.58,344.7 430.93,345.2 431,346 431.1,346.4 431.39,347.2 431.23,345.8 431.95,347.9 432.25,346.5 431.75,347.9 432.07,349.5 432.8,349 432.72,348.7 433,348.8 433.41,348.6 433.69,348.9 433.45,346.9 434.22,346.6 434.29,344.3 433.76,342.7 434.8,341.8 434.9,341.1 434.96,340.7 435,339.2 435.2,339 435.29,338.4 435.91,340.8 435.86,342.7 435.67,342.4 436.61,342.5 436.75,342.3 436.89,342.4 437.05,342.8 437,344 437.3,343.7 437.33,344.1 437.32,344.5 437.59,343.6 437.54,342.8 438.24,342.3 438.23,343.2 438.43,343.6 438.31,344.4 439.4,344.6 439.34,344.1 439.06,345 439.61,343 439.81,343.3 440,343 440.34,342.9 440.51,342 440.93,341.1 441.1,341.1 441.13,341.3 441.66,342 441.41,342.1 441.35,342.3 441.64,343.6 441.71,341.9 442.6,342.7 442.84,342.7 442.87,341.7 442.69,342.3 443,342 443.2,341.9 443.21,342.6 443.44,342 443.74,341.5 443.77,342.6 444.43,341.9 444.76,341.5 444.33,342.9 445.14,342 445.25,341.6 445.39,343 445.62,342.9 445.66,343.5 445.84,344.9 446,344.8 446.38,342.9 446.3,342.2 446.45,340.6 446.62,338.7 446.87,338.4 447.32,335.5 447.01,333 447.91,331.6 447.68,330.2 448,329 448.22,327.9 447.96,327.6 448.92,326.9 449.05,326.1 448.99,325 449.35,325.3 449.02,324 450,324.4 450,325 450,325 450.4,324.1 450.13,323.3 450.52,324 451.24,325.9 450.75,325.8 451.14,324.2 451.12,323.6 451.37,323 451.59,323.4 452,324 452.24,324 452.7,324.9 452.17,323.2 452.83,322.7 452.53,324.6 453.49,324.5 453.67,322.9 453.19,324.1 453.77,323.9 453.65,324.1 453.71,323.8 454.33,321.5 454.55,321.6 454.98,321.6 455,322 455.41,322.2 455.81,321.9 455.98,322.3 455.9,323.6 456.32,324 456.49,324.5 456.8,326.5 456.89,328.8 456.97,327.9 457,328.8 457,328.3 457.7,325.9 457.78,325.1 458.24,325.8 458.34,324.7 458.47,325 458.82,323 458.99,321.7 458.79,320.6 459,320 459.2,319.4 459.44,319 459.72,318.3 459.75,315.4 459.88,315.1 460.4,314 460.97,310.4 460.45,306 461,300 460.81,294.3 461.57,288.2 461.39,282.2 461.56,280.3 462,275 461.77,272.2 462.47,270.9 462.91,269.3 462.42,267 463,263 463.13,263.1 463.78,262 463.7,263 464.17,260.5 463.71,260.9 464.65,258.9 464.81,259.9 464.28,257.7 464.64,257 465,255 465.07,254.9 465.75,250.8 466.1,249.1 465.45,244.4 466,243 466.18,244.3 466.38,242.3 466.9,241.9 467.16,244.4 467.06,242.5 467.68,242.1 467.55,241.7 467.31,244.3 467.6,244.9 468,245 468.17,243.1 468.81,243.8 468.58,242.7 468.62,244 468.87,242.7 469.06,244.3 469.05,244.7 469.4,242.6 469.62,241.6 470,242 470.52,241.5 470.2,240 470.59,238.5 471.1,237 470.54,237.2 471.13,237.5 471.27,236.4 471.6,237 471.57,233 471.82,226.2 472.12,221.5 472.19,218 472.6,215 473.02,213.9 473.13,213.7 473.24,211.6 473.88,209.2 474.01,206.8 474,203 474.6,202 474.11,196 474.4,190 474.59,186.4 475.1,186 475.78,180.6 475.09,177.8 475.7,180.3 475.89,179.5 476.3,176 476.09,175.6 476.5,172.8 476.84,171.6 476.91,171 477.4,167 477.98,166.2 478.18,161.8 478.5,160.7 477.96,161.3 478.12,161 478.6,158 478.4,153 478.73,152.1 479.23,149.5 479.83,142.9 479.7,140 480.42,131.3 480.64,118.6 480.4,108 480.37,104.8 480.66,102.1 480.98,101.5 481.44,98.2 481.5,96 482.05,94.8 481.67,92.7 481.76,96.2 482.11,97.8 482.5,93.2 482.69,99.7 482.58,100.4 483.38,100.8 483.4,108 483.89,113.5 484.03,120.7 483.82,128.6 484.3,131 484.7,147 484.86,172.3 485.2,198.8 485.71,193.8 485.6,186.2 486.34,204 486.2,223.8 486.44,212.9 486.14,208.5 486.8,201.2 487.5,218.3 487.4,233.8 487.56,226.2 488.16,217 488,211.2 488.24,218.2 488.01,230 488.6,238.8 488.8,220.4 489.2,206.2 489.6,222.7 489.83,237.7 489.8,248.8 490.35,245.4 490.4,236.2 490.13,249.8 491.14,259.9 491,271 491.35,272.2 491.03,275.9 492.06,277.1 492.41,278.7 492.17,280.1 492.4,283 492.92,283.6 492.56,286.4 493,287.8 493.35,287.4 493.47,284.6 493.57,282.3 493.75,282.6 493.54,280.5 494.18,276.5 494.83,275.1 494.97,274.2 495.03,272.8 495,271 495.28,268.8 495.13,264.9 496,262.6 495.73,261 495.85,258.5 495.88,255.2 495.92,253.6 496.2,250.7 496.94,246.9 497,245 497.31,244 497.5,241.6 497.2,236.3 497.67,235.8 497.76,235.4 497.91,230.8 498.45,230.4 498.18,225.7 498.54,223.6 499,221 499.4,221.6 499.48,219.9 499.56,220.2 500.18,218.7 500.07,216.8 500.27,214.3 500.3,217.6 500.43,217.7 500.74,215.7 501,215 501.27,213.3 501.57,213.4 501.5,212.7 501.68,213.3 501.9,211.1 502.4,211 502.53,210.3 502.53,209.8 503.19,208.4 502.84,211 503.86,210.9 503.99,209.9 503.99,207.7 504,208 503.72,210.2 504.25,218.5 504.83,223.4 505.14,228.1 505,235 505.2,240.8 505.75,247.7 505.4,253.7 505.61,256.9 506,261 506.04,267.4 506.18,271.6 506.15,275.7 506.91,280.5 507,285 506.98,288.1 507.3,292.4 507.61,293.1 507.58,296.6 508,298.8 508.13,296.5 508.07,295.3 508.25,293 508.41,289.1 509.23,287.7 509.53,285.1 509.77,284.1 509.55,281.8 509.96,278.6 510,276.2 510.43,277.3 510.72,277.9 510.87,275.6 510.6,276.7 511.18,276 511.45,278.3 511.48,276.1 511.34,276.3 511.84,276.3 512,277.8 512.41,276.5 512.47,275.1 512.85,275.6 512.53,276.4 512.58,276.6 513.44,274.6 513.25,275.1 513.79,274.1 513.94,271.2 514,271 514.16,270.4 514.84,271.6 514.5,269.1 514.35,267.3 515.44,266.5 514.9,268.8 515.54,268.5 515.93,267.4 515.68,265.8 516,266.2 516.17,267.1 516.74,266.3 516.97,269.2 516.96,271.7 517.3,271.6 517.54,270.5 517.34,271.1 517.13,274.1 517.97,274 518,275 518.05,276.4 518.26,277.4 518.81,279 518.38,279.7 518.68,282 519.52,282.8 518.95,283.1 519.21,284.1 519.64,284.2 520,285.8 520.17,285.2 519.99,286.2 520.42,284 520.97,283.3 520.93,281.7 521.04,280.9 521.65,278.9 521.53,277.5 521.76,278.3 522,279 522.27,278.9 521.93,277.2 522.98,275.1 522.68,274.5 522.84,273.8 522.98,272.3 523.36,272.3 523.23,270.4 523.78,270.1 524,271 524.26,269.7 524.43,270.1 524.25,269.1 525.03,268.8 525.16,266.7 524.81,264.8 525.45,264 525.36,263.5 525.91,264.5 526,263 526.36,263.2 526.53,263.7 526.79,265.2 526.77,262.2 527.08,261.7 527.33,260.4 527.17,262.1 527.44,262.5 527.77,262.8 527.97,264.1 527.77,260.8 528.01,261.8 528.6,262.2 528.77,261.1 529,261 529.18,261.8 529.36,262.7 529.51,264 529.42,263.1 529.68,263.6 529.87,263.1 530.81,263.9 530.39,265.2 530.78,266.2 531,267 531.47,266.7 531.15,267.6 531.21,269.9 531.44,267.7 531.63,266.8 531.84,269.5 532.04,269.3 532.21,268.7 532.68,269.1 533,269.8 533.18,268.6 533.87,268.4 533.76,265.9 533.8,265.8 534.19,266.6 534.51,265.3 534.13,265.2 534.31,263.2 535,264.1 535,263 535.04,262 535.44,262.5 535.54,262.1 535.68,262 536.43,261.2 536.29,259.8 536.26,259.5 536.24,258.7 536.33,260.7 537.11,260.7 536.8,261.4 537.23,261 537.85,262 537.91,261.5 538,261 538.35,261.1 538.53,259.8 538.79,260.5 538.53,261.8 539.06,259 539.67,257.9 539.38,260.2 539.71,260.8 539.85,261.4 540.49,258.5 539.81,257.2 540.55,258.7 540.41,259.1 540.92,258.5 541,257.2 541.13,259.7 541.23,259.5 541.42,263 542.2,263.4 541.87,265.3 542.25,265.4 542.62,267 542.3,268.9 542.96,270.6 543,271 543.4,271.9 543.23,271.8 543.84,273.8 543.7,275.7 543.73,276.7 544.39,274.8 544.78,275.1 544.45,276 544.54,278.6 545,279 545.11,279.2 545.16,278.4 545.66,279.8 546.3,279.6 545.61,279.7 545.7,280.5 546.06,283.5 546.72,282.1 546.59,283.4 547,284.8 547.2,282.7 547.25,280.9 548.09,280.8 547.87,280.8 547.96,279.1 548.55,277.6 548.74,279 548.81,277.1 548.96,275.6 549,275 549.38,274.2 549.6,274.1 549.89,275.1 549.55,272.4 550.37,272 549.92,273 550.7,270.9 550.12,272.7 550.41,271.2 550.52,270.6 550.87,269.9 551.85,268.1 551.9,268 551.74,269.3 552,269 552.23,268.3 552.46,267.1 552.3,267.3 552.59,269.5 553.22,269.2 553.28,269.4 553.32,268.2 553.16,268.7 554.14,268.1 553.98,267.3 554.48,267.7 554.5,266.3 554.68,267.2 554.99,266 555,266 555.3,265.6 555.79,266.9 555.12,267.1 555.73,268.1 555.81,270.5 556.55,272.5 556.89,270.9 556.37,270.8 556.96,272.5 557,275 557.37,275.9 557.23,277.4 558,277.6 557.78,279.6 557.57,279.8 558.51,279.5 558.1,278.3 558.12,280.2 559.05,279.9 559,280.2 559.23,283.6 558.98,284.7 559.62,284.8 559.79,285.2 560,285.8 560.31,284.4 560.8,282.9 560.93,282.8 560.58,282.7 560.78,281.9 561.06,281.6 561.9,280.1 561.61,281.7 561.97,280.2 562,279 562.36,278.6 562.31,276.2 562.66,274.5 562.74,273.2 562.84,272.5 562.93,275.3 563.7,273.9 563.34,272.3 563.86,272.3 564,272.2 564.07,270.9 564.49,270.8 564.63,271 564.58,273.1 565.26,274 565.44,275.4 565.54,275 565.98,273.8 565.73,273.1 566,273.8 566.28,273.4 566.77,270.8 566.29,269.1 566.32,269.7 567.19,270.9 567.35,271.9 567.13,269.8 567.72,268 567.63,268.3 568,267 568.28,266.2 568.29,265 569.03,263.6 568.61,262 569.01,263.4 569.21,262.1 569.45,262.3 569.27,262 569.63,262.7 569.84,263.2 569.95,263.5 570.85,262.3 570.81,260.1 570.61,259.6 571,259 571.36,257.6 571.82,258 571.46,255.9 571.65,256.5 571.87,254.6 572.19,254.8 572.32,254.6 572.78,254.6 572.79,253.8 573,254 573.36,254.3 573.63,253.9 573.46,254.6 573.78,254.7 573.66,253.6 574.03,253.7 574.43,252.2 575.08,252.8 574.97,253.4 575.04,250.9 575.05,251 575.22,252.1 575.93,250.5 575.77,249.1 576,249 576.31,248.8 576,248.6 576.98,249.7 576.51,250 577.32,248.3 577.56,248.6 577.58,244.8 577.25,244.1 577.57,244.4 578,244.2 578.1,244.1 578.41,244.6 578.33,243.8 578.32,244.4 579.4,245.9 579.58,245.6 579.35,246.2 579.54,248.6 580.03,248.7 580,249 580.2,249.1 580.58,250.5 581.03,251 581.08,254.7 581.3,255.6 581.32,254.1 581.23,255.7 581.48,258 581.59,259.7 582,259.8 581.99,258.3 582.17,258.4 582.8,256.1 582.91,257.8 582.78,257.3 583.48,258 583.44,257.5 583.57,254.4 583.87,253.4 584,253 584.06,252.2 584.43,250.7 584.91,250.3 584.86,252.5 584.92,251.8 585.08,251.1 585.41,251.6 585.52,248.8 585.33,249.9 586.25,250.8 585.98,248.8 586.25,246.4 586.69,246.8 586.76,245.9 587,245.2 587.3,248.3 587.83,249.8 587.55,252.3 587.84,256.5 588.1,260.2 588.6,262.9 588.77,269.7 588.25,273.8 588.84,276.9 589,279.8 589.02,277.8 589.06,271 589.43,269.5 589.48,263.3 590,260 589.96,259.4 589.92,259.7 590.52,259.2 590.32,256.8 591.37,256.5 591.58,254.9 591.23,252.6 591.3,252 591.81,253 592,251.2 592.06,252.6 592.24,258.5 592.96,260.9 593.23,263.9 593,268.8 593.26,268.8 593.68,268.7 593.97,267.2 594.16,266.2 594.4,266.4 594.5,268.3 594.36,265.6 594.55,267.3 594.78,265.3 595,265.2 594.94,265.5 595.22,265.7 595.46,267.8 595.94,267.6 595.98,266.7 596.1,266.7 596.84,269.4 596.89,271.6 596.76,269.8 597,270.8 597.3,269.9 597.49,267.4 597.85,266.1 597.97,268.8 598.48,269.3 597.99,269.8 598.38,268.5 598.53,267.2 598.71,264.9 599,265.2 598.96,266 599.76,267.4 599.76,268.6 599.69,269 599.59,269.1 599.91,269.4 600.27,270.5 601.07,271.1 600.74,272.2 601,274 601.23,274.9 601.68,276.2 601.43,278 601.93,280.6 601.56,281.2 601.95,284.9 602.71,288.4 602.2,289.4 602.54,290 603,292 603.12,293.8 603.76,296.4 603.6,297.5 603.81,299.5 604.39,297.8 604.07,297.9 604.76,299.6 604.65,301.9 605.01,304.4 605,304.8 605.55,302.9 605.88,302.2 606.16,300 605.72,296.8 606.39,297.5 606.4,295.2 606.69,295.9 606.9,298.4 606.56,299.6 607.63,300.8 607.5,303.7 607.5,305.3 607.61,305.5 608,308 608.1,308.2 608.32,308.7 608.62,310.9 608.86,312.8 608.95,312.2 608.85,313.5 609.86,314.7 609.78,315.7 609.54,316.2 610,316 610.14,316.1 610.59,315.1 610.48,315 611.29,315.1 611.05,315.9 610.99,315.8 610.92,317.2 611.74,319.6 611.77,318.9 612,320 611.92,322.4 612.39,325.8 613.08,328.1 613.02,329 613,332 613.35,333 612.95,334.1 613.24,336.7 613.47,338.1 614.02,338.5 614.27,338.8 614.22,341.6 615.02,342.5 615.01,342.5 615,344 615.07,343.3 615.41,342.4 616.03,341.9 615.38,343.8 615.92,344.2 616.15,343.5 616.41,342.5 616.42,342.6 616.73,341.8 617,342 617.43,338.6 617.52,336.3 617.52,332.4 618.09,328.6 618,327.2 618.08,328 618.67,328.7 618.69,329.1 618.52,328.3 619.38,329.7 619.21,329.9 619.15,330.8 619.6,332 619.79,332.5 620.17,334.3 620.49,336.2 620.68,338.6 621.11,339.3 621,340 621.27,339.8 621.81,340.5 621.34,339.8 622.09,341.7 621.74,342.5 622.26,343.9 622.73,344.5 622.61,344.5 622.6,344.2 623,344 623.35,345.4 623.63,346.4 624.04,345.5 623.67,347.1 623.84,347.5 624.4,347.8 624.79,346.4 625.06,346.5 624.82,344.2 625.25,341.7 625.46,340.7 625.76,339.7 625.75,339.5 626,338 626.27,336.6 626.21,334.5 626.59,334 627.17,333.2 627.31,331.9 626.91,332.1 627.62,330.4 627.7,329.9 627.61,329.6 628,328 628.26,325.5 628.04,322.9 628.85,322.5 628.39,319.5 628.78,318.7 628.95,317.2 629.04,316.3 629.33,312.6 629.95,310.4 630,308 630.14,306.8 630.61,305.7 630.99,302.5 630.77,301.9 630.62,298.5 631.27,298.3 631.32,296 631.29,292.1 632.01,290.5 632,290 632.25,288.8 632.86,288.9 633.04,284.9 632.66,283.9 632.54,283.3 633.58,282.3 633.17,278.1 634.03,278.7 634.05,276.3 634,274 633.9,274.2 634.05,273 635.09,273.1 635.13,272.6 634.92,270.4 635.66,272.8 635.18,271 635.6,271 635.63,272 636.01,274.9 636.32,279.7 636.51,283.6 636.64,286.7 637,288 637.03,289.8 637.25,292.7 637.75,295.2 638.19,294.1 638.1,297.1 638.55,297.3 638.81,298.3 638.19,301.7 639.06,302.3 639,304 639.37,304.8 639.13,304.1 639.49,306 639.72,307.2 640.16,307.6 639.81,309 640.88,309.5 640.19,311.4 640.5,311.2 640.77,313 641.12,313.4 641.22,313.3 641.6,312.8 641.66,311 641.66,309.9 642.69,308.3 642.67,306.4 642.74,302.7 643,300 642.86,298.7 643.64,295.8 643.91,297.3 643.55,294.3 644.24,292.5 644.4,293.2 644.89,292.6 644.48,294.6 645.42,296.4 645.26,295.6 645.25,294.4 646.04,294.8 645.64,297.3 646,298 646.15,298.3 646.81,300.5 646.38,300.5 646.69,301.5 646.97,303.4 646.98,303.2 646.98,304.7 647.3,304.7 647.55,305.9 648,307.8 648.44,305.4 648.4,303 648.74,302.3 648.35,302.2 648.57,298.1 649.07,295.3 649.67,294.6 649.69,294.5 649.77,292.1 650,290 649.95,288.4 650.15,288.1 650.43,288.9 650.56,288 650.94,285 651.67,284.2 651.09,282.4 651.6,282.2 652.04,281.6 652.4,281.4 652.66,282.6 652.34,284.2 652.59,283.7 653.34,285.5 653.47,287 653.47,287.9 653.23,289.4 653.89,290.2 654,290.8 654.16,289.7 654.36,291.1 654.58,289.2 655.15,290 654.96,287.8 655.01,286.3 655.08,286.9 655.88,285.8 655.94,286.2 656,287 656.37,285.4 656.13,283.8 656.54,285.2 656.59,286.9 657.21,284.3 657.23,284.3 657.83,283.3 657.36,285 657.6,284.3 658,284.2 658.04,284.9 658.5,285.3 658.68,284.7 658.53,286.3 658.88,288.5 659.66,288.2 658.9,287.3 659.21,286.9 660.02,287.2 660,288.8 660.13,287.3 660.17,284.9 661.03,282.8 660.83,282.9 661.06,283.9 661.42,282.5 661.23,281.4 661.21,281.2 661.62,279.6 662,278 662.12,276.6 662.23,275.7 662.7,272.1 663.03,270.6 662.52,270.1 662.72,268.8 663.47,268.7 663.47,266.4 663.7,262.9 664,262 664.07,262.2 664.15,261.7 664.2,262.4 664.47,263 664.94,260 664.79,258.5 664.95,259.6 665.13,257.7 665.73,256.5 666,257.2 666.1,260.2 666.87,265.8 666.81,268.8 666.84,269.7 667.37,275.4 667.46,279.2 667.46,282.9 667.6,284.8 668.16,278.1 668.43,271.5 668.45,267.1 668.5,260.2 669.17,255.3 669,250 669.13,248.6 669.45,244 669.6,238.2 669.49,242.5 669.82,249.3 670.15,254.5 670.07,257.2 670.52,261.5 671,266 670.96,268.9 671.78,271.8 671.92,274.5 671.8,276.6 671.7,275.7 672.09,279.3 672.6,280.9 672.37,282.4 673.03,284.2 673,286.8 673.12,285.9 673.4,284.5 673.69,283.5 673.74,281.3 673.78,281.8 674.47,280.3 674.48,279.8 674.77,276.9 674.59,277.3 675,276 675.36,274.8 675.78,272.3 675.33,272.9 675.82,273.2 676.49,271.1 676.03,268.8 676.78,270.6 677.04,268.4 676.72,267.6 677,268 677.15,266.8 677.28,266 677.56,264.2 677.95,263.7 677.54,261.6 678.33,262.9 678.54,262.8 678.25,259.6 678.81,260.7 679,259.2 679.45,258.7 679.15,259.7 679.61,260.9 679.44,259.5 680.02,258.4 680.62,259 680.48,259.1 680.86,261.3 681.01,261.2 681,260.8 680.92,259.5 681.64,256.8 681.53,254.5 681.88,249.2 682,248 682.22,245.9 682.14,241.9 682.2,241.1 682.69,237.7 683.62,234.5 683.58,230 683.28,229.6 683.8,227 683.91,217.7 684.72,213.3 684.41,206.5 684.5,199.7 684.9,192 685.07,190.1 685.43,187.9 685.6,185.2 685.75,188.3 685.62,192 686.45,196.2 686.94,197.8 687.05,202.6 687,205.8 687.22,203.3 687.2,202.1 688.05,200.7 688.04,196.7 688.04,194.7 688.22,195.8 688.6,195.8 688.6,193.2 688.96,194 688.6,194.6 689.09,193.4 689.73,194.9 689.87,194.5 689.82,196.7 690,198.6 690.4,198 690.57,203.8 691.17,205.1 691.34,207.6 690.86,211.2 691.5,214.8 691.26,210.9 691.94,210.9 692.02,210.7 692.72,206.5 692.6,207 692.69,205.9 692.64,207.1 692.88,205.4 693.91,202.7 693.71,203.9 693.93,199.8 694.5,201.6 694.13,197.6 694.34,197.7 694.8,197.2 695.18,197.1 694.99,200.9 695.65,201.3 695.67,200.1 696.2,202.3 696.46,203.9 696.05,205.6 696.5,205.8 696.7,204 696.84,201.3 697.51,197.5 697.22,193.1 697.07,190.3 697.76,186.8 698,186.2 697.97,186.6 698.8,186.3 698.94,186.7 698.4,189 698.94,192.2 699.59,189.4 698.99,191.6 699.53,191.9 699.91,191.6 700.08,194.5 700.2,194.8 700.23,194.2 701.06,195.3 701.34,195.5 700.64,193.6 701.48,194.4 702.01,194.9 701.34,193.1 701.56,192.9 702.14,189.4 702.4,188 702.37,185.9 702.5,184.3 703.43,179.1 702.71,175.9 703.42,175.1 704.06,173.2 703.84,169.8 704,168 704.05,166.4 703.98,166 704.89,159.8 705.02,154.8 705.21,152.8 705.3,152 705.27,153.3 705.54,149.4 705.82,146.8 705.88,150.9 705.91,149 706.53,149.5 706.8,148 707.07,147 707.63,145.1 707.27,148.7 707.27,150 707.7,144.9 707.7,143.8 707.92,143 708.52,143.4 708.6,144.2 708.83,147.5 708.79,147.2 709.05,148.5 709.67,154.2 709.7,157 710.41,160.9 710.28,164.1 710.5,168 710.37,174.9 711.4,178.2 711.63,180.2 711.38,186.1 712.06,193 711.9,196 712,194.5 712.18,195.9 712.07,197.8 712.7,195.8 712.89,196.5 713.24,199 713.4,199.8 713.86,194 714.18,196 714.33,193.4 713.87,191.7 714.5,189.2 714.81,189 714.7,189 715.14,188.4 715.4,189.8 715.8,190.7 716.17,189.3 715.93,190.4 716.2,192.8 716.06,188.1 716.29,187 716.96,186.7 716.85,186.9 717.55,182.8 717.82,182.1 717.8,179 718,177.4 718.57,177.3 718.19,176 718.3,172.6 718.75,170.5 719.34,169.2 719.31,168 719.19,167.9 719.53,167 719.82,169 720,168 720.39,166.7 720.56,163.7 720.67,166.1 720.57,164.3 721.2,165.2 721.09,162.2 721.02,164.1 721.79,165.1 722.12,161.5 722.1,161 722.12,160.6 722.2,159.8 723.2,161.6 722.68,158.7 723.27,159.5 723.59,159.8 723.27,163.3 723.84,160.2 724.22,161.2 724.3,161 724.7,162.3 725.13,161.3 725.19,161.3 724.62,162.6 725.6,164.2 725.7,162.9 725.76,160.4 725.7,159.1 726.01,158.7 726.27,159.9 726.5,159 727.12,164.5 726.44,170.1 727.6,172.3 727.31,179 727.6,183.8 727.67,184.2 728.36,180.3 727.77,181.7 728.93,180.9 728.77,181 729.23,180.3 729.55,177.5 729.07,173.6 729.78,172.7 729.8,172.2 730.24,171.9 730.63,172.5 730.27,170.9 730.27,170.5 730.64,174.8 730.99,174.8 731.68,172.5 731.83,175 731.7,173.9 731.92,176.8 732,177 732.29,178.7 732.12,180.5 732.77,180.7 733.01,178.7 733.25,177.6 732.71,178.8 733.67,179.4 733.61,180.3 733.41,181.6 733.97,182.9 734.2,183.8 734.59,182.2 734.18,183 735.17,180.7 734.89,180.1 735.69,181 735.05,181.7 736.22,180.3 736.05,180.6 736.31,180.2 736.4,179 736.58,176.8 736.37,174.8 736.98,173.2 737.1,175.3 737.74,174.2 737.76,174.4 737.57,174 737.8,175.4 738.56,171.5 738.52,170.6 738.6,170 738.74,169 738.93,168 738.9,164.7 739.39,166.8 739.87,164.9 740.19,163.5 740.06,166.9 740.59,164.9 739.96,164.9 740.95,164 741.03,164 741.17,161.7 741.2,161.2 741.37,163.6 741.76,162.4 742.14,165.3 742.57,167.2 742.77,168.4 742.35,167.3 742.68,166.9 743,168 743.25,167 743.27,169 744.12,168.9 744.15,172.5 743.64,174.3 744.5,173.2 744.27,175.5 744.7,175.5 744.63,179.1 745.2,181.9 744.89,184.8 746,185.9 745.51,187.8 746.33,187.2 746.2,188 746.41,190.5 746.51,190.9 747.22,196.8 747.25,197.2 747.3,201 747.55,201.2 747.9,200.3 747.82,202.6 748.64,204.3 748.54,201.8 748.78,200.2 748.7,200.5 749,203 748.98,202.3 749.47,203.8 749.95,201.4 749.97,202.8 750.24,201.8 749.93,199.5 750.36,201.2 750.6,201 751.07,207.8 751.16,215.3 751.16,225.3 751.9,234.6 751.7,245"/><polyline stroke-width="3.9" points="161.46,210.2 162,201.2 161.87,203 162.52,201.3 162.24,204.7 162.4,202.2 163,204.8 163.67,200.3 163.16,196.3 163.1,192.5 163.99,186.1 164,182 164.03,180.7 164,183.4 164.49,183.6 164.75,183.4 165,180 165.15,183.7 165.25,189.5 165.52,191.3 165.62,193.6 166,200 166,204.2 165.93,205.9 166.3,210.5"/><polyline stroke-width="3.9" points="167.43,213.9 167.33,205.3 167.16,195.7 167.8,189.4 168,180 168.32,173.7 168.03,167.5 168.27,164.7 169.28,156.5 169,150 168.96,144.7 169.31,143.8 169.57,135.5 170,129.3 170,129.2 170.37,128.4 170.37,130.4 170.41,132.4 170.92,133.4 171,138.8 171.65,128.7 170.98,123.8 171.63,122.6 171.81,119.5 172,113 172.26,107.5 172.5,98 172.93,94.2 173,92.2 173.26,94.5 173.39,93.3 173.17,93.9 174.1,92.2 174.04,91.2 174.18,91.5 174.5,93.8 174.7,93.7 174.79,86.8 174.91,80.7 175.4,81 175.33,76.4 175.56,72.4 175.88,72.3 176.42,73.9 176.6,70 177.03,65.1 176.86,67.6 176.97,68 177.4,65 177.73,62.3 178.08,65.1 178.34,62.6 178.3,66 178.5,63.9 178.73,60.7 179.1,62.2 179.02,70.7 179.85,77.5 180.25,82.3 180,84 179.84,88.6 180.85,90.3 180.96,90.1 180.74,95.3 181,95 181.16,102.4 181.41,105.9 181.7,112 182.35,115.9 181.99,121.4 182.08,131.3 182.5,135 182.47,142.5 183,154.8 183.04,151 183.12,141.3 183.66,134.4 183.81,126.6 184,120 184.44,118.2 183.97,115.7 184.3,108.5 185.25,102.5 185,101 184.83,98.2 184.96,93.1 185.37,92 186.23,85 186,81 186.39,75.9 186.85,71.7 186.52,70.4 186.9,70.7 186.76,71.4 186.86,75.6 187.4,81.2 187.61,80.2 188,84 188.21,96.7 188.6,112 189.03,111.7 189.27,112.1 188.82,112.9 189.75,111.5 189.5,113.3 189.8,115 189.89,112.9 189.78,111.7 190.5,112.2 190.65,117.5 191.12,123 191.58,126.7 191.65,131 191.5,140 191.33,141.6 192,150 192.56,155.4 191.95,161.6 192.21,163.1 192.75,167.9 193,170 193.37,177.9 193.45,182.1 193.99,181.7 193.4,183.7 194,190 193.75,194.3 194.62,195.4 194.61,196.7 194.53,203.6 195,206 195.46,210.7 194.91,214.4"/><polyline stroke-width="3.9" points="196.57,214.7 196.83,207.5 197.15,204.9 197,199.2 197.7,205"/><polyline stroke-width="3.9" points="199,206.2 199.13,212.9 199,213.8"/><polyline stroke-width="3.9" points="247,214 247.25,207.1 247.42,204.5 247.5,200.5 248.11,194.6 248,192 248.5,191.2 248.07,189.4 248.93,190.8 248.41,191.1 248.66,193.3 249.56,190.7 249.4,190 250.05,193.6 250,200 250.61,204.5 250.35,205.3 250.43,211.9 251.07,214"/><polyline stroke-width="3.9" points="256.56,213.7 256.63,211.3 256.9,209.8 256.95,212.1 257.32,209.7 256.96,210.1 257.48,207.3 257.68,206.9 258,206 258.12,206.3 258,203.8 258.32,200.9 258.72,203 259.46,201.2 259.47,202.6 259.23,198.9 259.37,198 259.64,196.6 260,196 260.17,195.2 260.51,194.5 260.12,195 260.76,195.9 261.46,193.3 261.05,193.9 261.34,190 261.48,190 261.84,189.1 262,190 262.06,189 262.35,190.8 262.38,187.7 262.73,185.9 263.44,189.7 262.85,190 263.21,188.1 263.6,188.5 263.81,187.9 264.21,191.7 264.17,197 264.5,198.8 264.89,196.2 265,193.2 264.88,197.2 265.72,201.6 265.29,206.9 265.8,213.8 265.88,208.1 265.98,203.7 266.5,201.2 266.82,207.2"/><polyline stroke-width="3.9" points="296.81,212.4 297,210 296.77,208.5 297.85,205.2 297.47,204.3 297.58,198.7 298,197 298.04,198.8 298.66,198.6 298.72,195.8 298.7,196.2 299.27,195.7 299.4,195 299.61,197.3 299.79,200.6 300,203 300.17,210.5 300.35,214.8"/><polyline stroke-width="3.9" points="311.38,214.6 311.4,214 311.24,214.1 312.2,214.4"/><polyline stroke-width="3.9" points="312.48,213.5 312.49,209.6 312.6,209.2 312.65,207.2 313.15,210.9 313.77,213.2 313.88,211.4 313.89,214.5 314,214 314.08,214.6 314.57,214.5"/><polyline stroke-width="3.9" points="315.97,214.2 316.55,213.5 316.99,212.9 317,211.2 317.62,211"/><polyline stroke-width="3.9" points="473.02,213.9 473.13,213.7 473.24,211.6 473.88,209.2 474.01,206.8 474,203 474.6,202 474.11,196 474.4,190 474.59,186.4 475.1,186 475.78,180.6 475.09,177.8 475.7,180.3 475.89,179.5 476.3,176 476.09,175.6 476.5,172.8 476.84,171.6 476.91,171 477.4,167 477.98,166.2 478.18,161.8 478.5,160.7 477.96,161.3 478.12,161 478.6,158 478.4,153 478.73,152.1 479.23,149.5 479.83,142.9 479.7,140 480.42,131.3 480.64,118.6 480.4,108 480.37,104.8 480.66,102.1 480.98,101.5 481.44,98.2 481.5,96 482.05,94.8 481.67,92.7 481.76,96.2 482.11,97.8 482.5,93.2 482.69,99.7 482.58,100.4 483.38,100.8 483.4,108 483.89,113.5 484.03,120.7 483.82,128.6 484.3,131 484.7,147 484.86,172.3 485.2,198.8 485.71,193.8 485.6,186.2 486.34,204"/><polyline stroke-width="3.9" points="486.44,212.9 486.14,208.5 486.8,201.2"/><polyline stroke-width="3.9" points="501.27,213.3 501.57,213.4 501.5,212.7 501.68,213.3 501.9,211.1 502.4,211 502.53,210.3 502.53,209.8 503.19,208.4 502.84,211 503.86,210.9 503.99,209.9 503.99,207.7 504,208 503.72,210.2"/><polyline stroke-width="3.9" points="684.72,213.3 684.41,206.5 684.5,199.7 684.9,192 685.07,190.1 685.43,187.9 685.6,185.2 685.75,188.3 685.62,192 686.45,196.2 686.94,197.8 687.05,202.6 687,205.8 687.22,203.3 687.2,202.1 688.05,200.7 688.04,196.7 688.04,194.7 688.22,195.8 688.6,195.8 688.6,193.2 688.96,194 688.6,194.6 689.09,193.4 689.73,194.9 689.87,194.5 689.82,196.7 690,198.6 690.4,198 690.57,203.8 691.17,205.1 691.34,207.6 690.86,211.2 691.5,214.8 691.26,210.9 691.94,210.9 692.02,210.7 692.72,206.5 692.6,207 692.69,205.9 692.64,207.1 692.88,205.4 693.91,202.7 693.71,203.9 693.93,199.8 694.5,201.6 694.13,197.6 694.34,197.7 694.8,197.2 695.18,197.1 694.99,200.9 695.65,201.3 695.67,200.1 696.2,202.3 696.46,203.9 696.05,205.6 696.5,205.8 696.7,204 696.84,201.3 697.51,197.5 697.22,193.1 697.07,190.3 697.76,186.8 698,186.2 697.97,186.6 698.8,186.3 698.94,186.7 698.4,189 698.94,192.2 699.59,189.4 698.99,191.6 699.53,191.9 699.91,191.6 700.08,194.5 700.2,194.8 700.23,194.2 701.06,195.3 701.34,195.5 700.64,193.6 701.48,194.4 702.01,194.9 701.34,193.1 701.56,192.9 702.14,189.4 702.4,188 702.37,185.9 702.5,184.3 703.43,179.1 702.71,175.9 703.42,175.1 704.06,173.2 703.84,169.8 704,168 704.05,166.4 703.98,166 704.89,159.8 705.02,154.8 705.21,152.8 705.3,152 705.27,153.3 705.54,149.4 705.82,146.8 705.88,150.9 705.91,149 706.53,149.5 706.8,148 707.07,147 707.63,145.1 707.27,148.7 707.27,150 707.7,144.9 707.7,143.8 707.92,143 708.52,143.4 708.6,144.2 708.83,147.5 708.79,147.2 709.05,148.5 709.67,154.2 709.7,157 710.41,160.9 710.28,164.1 710.5,168 710.37,174.9 711.4,178.2 711.63,180.2 711.38,186.1 712.06,193 711.9,196 712,194.5 712.18,195.9 712.07,197.8 712.7,195.8 712.89,196.5 713.24,199 713.4,199.8 713.86,194 714.18,196 714.33,193.4 713.87,191.7 714.5,189.2 714.81,189 714.7,189 715.14,188.4 715.4,189.8 715.8,190.7 716.17,189.3 715.93,190.4 716.2,192.8 716.06,188.1 716.29,187 716.96,186.7 716.85,186.9 717.55,182.8 717.82,182.1 717.8,179 718,177.4 718.57,177.3 718.19,176 718.3,172.6 718.75,170.5 719.34,169.2 719.31,168 719.19,167.9 719.53,167 719.82,169 720,168 720.39,166.7 720.56,163.7 720.67,166.1 720.57,164.3 721.2,165.2 721.09,162.2 721.02,164.1 721.79,165.1 722.12,161.5 722.1,161 722.12,160.6 722.2,159.8 723.2,161.6 722.68,158.7 723.27,159.5 723.59,159.8 723.27,163.3 723.84,160.2 724.22,161.2 724.3,161 724.7,162.3 725.13,161.3 725.19,161.3 724.62,162.6 725.6,164.2 725.7,162.9 725.76,160.4 725.7,159.1 726.01,158.7 726.27,159.9 726.5,159 727.12,164.5 726.44,170.1 727.6,172.3 727.31,179 727.6,183.8 727.67,184.2 728.36,180.3 727.77,181.7 728.93,180.9 728.77,181 729.23,180.3 729.55,177.5 729.07,173.6 729.78,172.7 729.8,172.2 730.24,171.9 730.63,172.5 730.27,170.9 730.27,170.5 730.64,174.8 730.99,174.8 731.68,172.5 731.83,175 731.7,173.9 731.92,176.8 732,177 732.29,178.7 732.12,180.5 732.77,180.7 733.01,178.7 733.25,177.6 732.71,178.8 733.67,179.4 733.61,180.3 733.41,181.6 733.97,182.9 734.2,183.8 734.59,182.2 734.18,183 735.17,180.7 734.89,180.1 735.69,181 735.05,181.7 736.22,180.3 736.05,180.6 736.31,180.2 736.4,179 736.58,176.8 736.37,174.8 736.98,173.2 737.1,175.3 737.74,174.2 737.76,174.4 737.57,174 737.8,175.4 738.56,171.5 738.52,170.6 738.6,170 738.74,169 738.93,168 738.9,164.7 739.39,166.8 739.87,164.9 740.19,163.5 740.06,166.9 740.59,164.9 739.96,164.9 740.95,164 741.03,164 741.17,161.7 741.2,161.2 741.37,163.6 741.76,162.4 742.14,165.3 742.57,167.2 742.77,168.4 742.35,167.3 742.68,166.9 743,168 743.25,167 743.27,169 744.12,168.9 744.15,172.5 743.64,174.3 744.5,173.2 744.27,175.5 744.7,175.5 744.63,179.1 745.2,181.9 744.89,184.8 746,185.9 745.51,187.8 746.33,187.2 746.2,188 746.41,190.5 746.51,190.9 747.22,196.8 747.25,197.2 747.3,201 747.55,201.2 747.9,200.3 747.82,202.6 748.64,204.3 748.54,201.8 748.78,200.2 748.7,200.5 749,203 748.98,202.3 749.47,203.8 749.95,201.4 749.97,202.8 750.24,201.8 749.93,199.5 750.36,201.2 750.6,201 751.07,207.8"/></g>
<g fill="none" stroke="#A5A5A5" stroke-width="0.9"><polyline points="90.4,406 88.3,417.8"/><polyline points="491,327 497,340"/><polyline points="508,337 512,347 518,347"/><polyline points="440.5,409 441.5,412.2 447,412.2"/></g>
<g fill="none" stroke="#FF0000" stroke-width="2.2"><circle cx="88.6" cy="418.1" r="6.3"/><circle cx="220" cy="414.6" r="6.3"/><circle cx="286" cy="383" r="6.3"/><circle cx="382.4" cy="400.6" r="6.3"/><circle cx="440.5" cy="408" r="6.3"/><circle cx="491" cy="327" r="6.3"/><circle cx="508" cy="337" r="6.3"/><circle cx="624.4" cy="392.4" r="6.3"/><circle cx="673" cy="361.6" r="6.3"/></g>
<g class="lb"><text x="77" y="399.9" textLength="27" lengthAdjust="spacingAndGlyphs">10.64</text><text x="239" y="419.6" textLength="27.6" lengthAdjust="spacingAndGlyphs">11.32</text><text x="284" y="404.0" textLength="27.4" lengthAdjust="spacingAndGlyphs">18.15</text><text x="375.4" y="418.6" textLength="27" lengthAdjust="spacingAndGlyphs">14.30</text><text x="453" y="416.4" textLength="24.5" lengthAdjust="spacingAndGlyphs">12.81</text><text x="484" y="354.6" textLength="25" lengthAdjust="spacingAndGlyphs">30.12</text><text x="525" y="351.6" textLength="26" lengthAdjust="spacingAndGlyphs">27.98</text><text x="623.6" y="413.6" textLength="26.8" lengthAdjust="spacingAndGlyphs">16.15</text><text x="676" y="380.0" textLength="24.6" lengthAdjust="spacingAndGlyphs">22.73</text></g>
<line x1="253" y1="508.3" x2="280" y2="508.3" stroke="#F07424" stroke-width="2.6"/>
<text class="cj" x="283" y="512.6" font-size="11.2">市盈率（左轴）</text>
<line x1="363" y1="508.3" x2="390" y2="508.3" stroke="#5599D7" stroke-width="2.6"/>
<text class="cj" x="392.8" y="512.6" font-size="11.2" textLength="92.4" lengthAdjust="spacingAndGlyphs">深圳成指（右轴）</text>
<circle cx="498.2" cy="508.3" r="3.6" fill="none" stroke="#FF0000" stroke-width="1.9"/>
<text class="cj" x="514.5" y="512.6" font-size="11.2">底部水平</text>
<defs><filter id="emb" x="-20%" y="-20%" width="140%" height="140%"><feGaussianBlur in="SourceAlpha" stdDeviation="0.45" result="b"/><feOffset in="b" dx="1" dy="1.2" result="o"/><feFlood flood-color="#858585"/><feComposite in2="o" operator="in" result="sh"/><feOffset in="b" dx="-0.6" dy="-0.6" result="o2"/><feFlood flood-color="#e4e4e4"/><feComposite in2="o2" operator="in" result="hl"/><feMerge><feMergeNode in="hl"/><feMergeNode in="sh"/><feMergeNode in="SourceGraphic"/></feMerge></filter><filter id="emb2" x="-20%" y="-20%" width="140%" height="140%"><feGaussianBlur in="SourceAlpha" stdDeviation="0.4" result="b"/><feOffset in="b" dx="0.7" dy="0.8" result="o"/><feFlood flood-color="#b0b0b0"/><feComposite in2="o" operator="in" result="sh"/><feMerge><feMergeNode in="sh"/><feMergeNode in="SourceGraphic"/></feMerge></filter></defs><g filter="url(#emb)" fill="#f3f3f3" stroke="none"><circle cx="577" cy="500.3" r="11.6" fill="none" stroke="#f3f3f3" stroke-width="2.4"/><path d="M566.7,491.8 Q573.5,494.5 574.6,498 Q572.5,501.5 568.4,504.3 M584.1,495.4 L579.3,500.3 L583.9,505.6" fill="none" stroke="#f3f3f3" stroke-width="2.5" stroke-linecap="round" stroke-linejoin="round"/><text x="595.6" y="508" font-family="'Liberation Sans','Noto Sans CJK SC',sans-serif" font-weight="400" font-size="23" textLength="53" lengthAdjust="spacingAndGlyphs">雪球</text></g><g fill="#c9c9c9" filter="url(#emb2)"><text x="651" y="507" font-family="'Liberation Sans','Noto Sans CJK SC',sans-serif" font-size="20">：</text></g><g><text x="667.5" y="508.7" font-family="'Liberation Sans',sans-serif" font-size="23" fill="#b9b9b9" stroke="#ffffff" stroke-width="0.45" textLength="108.5" lengthAdjust="spacingAndGlyphs">ThomasJu</text></g>
</svg></body></html>
